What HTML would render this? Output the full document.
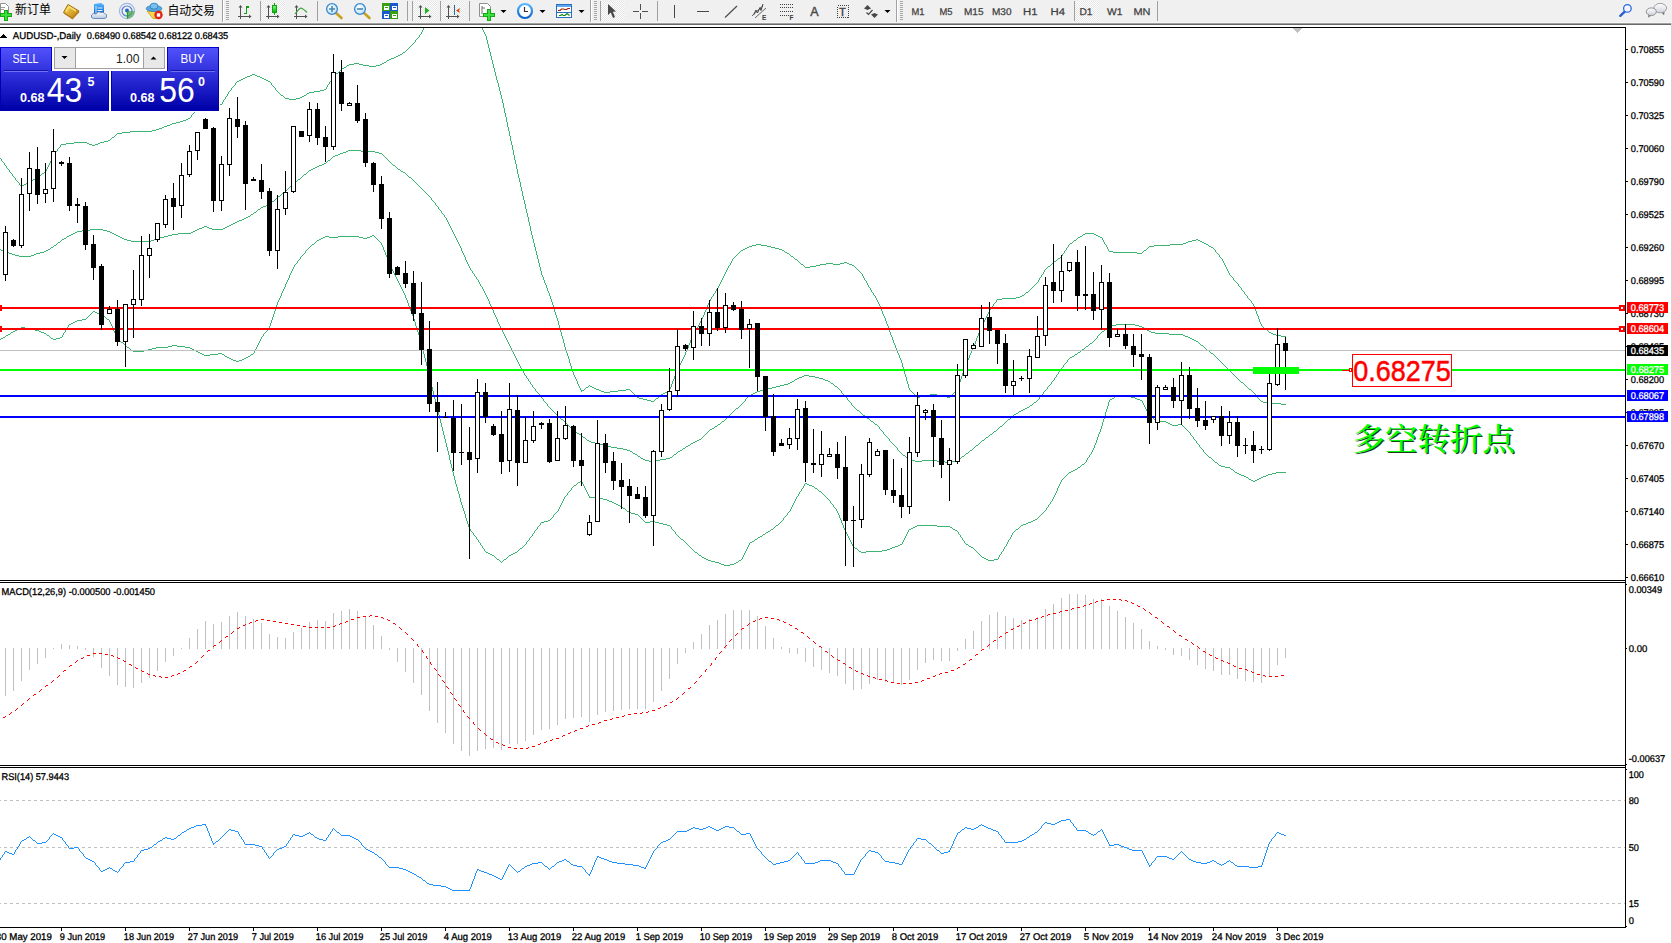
<!DOCTYPE html><html><head><meta charset="utf-8"><title>AUDUSD Daily</title>
<style>html,body{margin:0;padding:0;background:#fff;overflow:hidden}svg{display:block}text{white-space:pre}</style></head><body>
<svg width="1672" height="943" viewBox="0 0 1672 943">
<defs><clipPath id="cpMain"><rect x="0" y="28" width="1625" height="552"/></clipPath></defs>
<rect x="0" y="0" width="1672" height="943" fill="#fff"/>
<g shape-rendering="crispEdges">
<rect x="0" y="0" width="1672" height="22" fill="#f0f0f0"/>
<rect x="0" y="22" width="1672" height="1" fill="#f6f6f6"/>
<rect x="0" y="23" width="1672" height="1" fill="#a0a0a0"/>
<rect x="0" y="24" width="1672" height="1" fill="#696969"/>
<rect x="0" y="25" width="1672" height="2" fill="#fff"/>
</g>
<path d="M423.5 28v2M482.5 28v2M422.5 30v2M483.5 30v2M421.5 32v2M484.5 32v2M420 34.5h1M485.5 34v2M419.5 35v2M486.5 36v4M418 37.5h1M417 38.5h1M416 39.5h1M415.5 40v2M487.5 40v4M414 42.5h1M413 43.5h1M412 44.5h1M488.5 44v4M411 45.5h1M410 46.5h1M409 47.5h1M408 48.5h1M489.5 48v4M407 49.5h1M406 50.5h1M405 51.5h1M403 52.5h2M490.5 52v4M402 53.5h1M400 54.5h2M398 55.5h2M396 56.5h2M491.5 56v4M394 57.5h2M391 58.5h3M389 59.5h2M387 60.5h2M492.5 60v4M386 61.5h1M384 62.5h2M354 63.5h5M382 63.5h2M349 64.5h5M359 64.5h4M380 64.5h2M493.5 64v4M347 65.5h2M363 65.5h6M376 65.5h4M346 66.5h1M369 66.5h7M344 67.5h2M342 68.5h2M494.5 68v4M341 69.5h1M340 70.5h1M339 71.5h1M338 72.5h1M495.5 72v4M336 73.5h2M252 74.5h3M335 74.5h1M250 75.5h2M255 75.5h2M334 75.5h1M247 76.5h3M257 76.5h3M333 76.5h1M496.5 76v4M245 77.5h2M260 77.5h2M332.5 77v2M243 78.5h2M262 78.5h2M241 79.5h2M264 79.5h2M331.5 79v2M239 80.5h2M266 80.5h2M497.5 80v3M237 81.5h2M268 81.5h2M330 81.5h1M236 82.5h1M270 82.5h1M329.5 82v2M235.5 83v2M271.5 83v2M498.5 83v4M328 84.5h1M234 85.5h1M272 85.5h1M327.5 85v2M233 86.5h1M273 86.5h1M232 87.5h1M274 87.5h1M326.5 87v2M499.5 87v4M231.5 88v2M275.5 88v2M324 89.5h2M230 90.5h1M276 90.5h1M320 90.5h4M229 91.5h1M277 91.5h1M314 91.5h6M500.5 91v4M228.5 92v2M278 92.5h1M309 92.5h5M279 93.5h1M307 93.5h2M227.5 94v2M280 94.5h1M306 94.5h1M281 95.5h2M304 95.5h2M501.5 95v4M226 96.5h1M283 96.5h1M302 96.5h2M225.5 97v2M284 97.5h1M300 97.5h2M205 98.5h1M285 98.5h4M296 98.5h4M204 99.5h1M206 99.5h1M224 99.5h1M289 99.5h7M502.5 99v4M203.5 100v2M207 100.5h2M223.5 100v2M209 101.5h1M202 102.5h1M210 102.5h1M222.5 102v2M201 103.5h1M211 103.5h2M503.5 103v5M200 104.5h1M213 104.5h9M199.5 105v2M198 107.5h1M197 108.5h1M504.5 108v5M196 109.5h1M195.5 110v2M194 112.5h1M193 113.5h1M505.5 113v4M192 114.5h1M191.5 115v2M190 117.5h1M506.5 117v5M188 118.5h2M186 119.5h2M183 120.5h3M180 121.5h3M176 122.5h4M507.5 122v5M172 123.5h4M170 124.5h2M167 125.5h3M164 126.5h3M162 127.5h2M508.5 127v4M159 128.5h3M156 129.5h3M152 130.5h4M130 131.5h22M509.5 131v5M122 132.5h8M117 133.5h5M116 134.5h1M115 135.5h1M114 136.5h1M510.5 136v5M112 137.5h2M111 138.5h1M110 139.5h1M108 140.5h2M104 141.5h4M511.5 141v4M74 142.5h13M100 142.5h4M66 143.5h8M87 143.5h2M98 143.5h2M61 144.5h5M89 144.5h3M95 144.5h3M60.5 145v2M92 145.5h3M512.5 145v5M59 147.5h1M58 148.5h1M57.5 149v2M513.5 150v5M56 151.5h1M55 152.5h1M54.5 153v2M53.5 155v2M514.5 155v5M52.5 157v2M0 158.5h1M1.5 159v2M51.5 159v2M515.5 160v4M2 161.5h1M50.5 161v2M3 162.5h1M4.5 163v2M49.5 163v2M516.5 164v5M5 165.5h1M48.5 165v2M6.5 166v2M47.5 167v2M7 168.5h1M8 169.5h1M46.5 169v2M517.5 169v5M9.5 170v2M45 171.5h1M10 172.5h1M44 172.5h1M11 173.5h1M42 173.5h2M12.5 174v2M41 174.5h1M518.5 174v4M40 175.5h1M13 176.5h1M38 176.5h2M14 177.5h1M37 177.5h1M15.5 178v2M35 178.5h2M519.5 178v4M33 179.5h2M16 180.5h1M31 180.5h2M17 181.5h1M29 181.5h2M18 182.5h1M27 182.5h2M520.5 182v5M19.5 183v2M26 183.5h1M24 184.5h2M20 185.5h1M22 185.5h2M21 186.5h1M521.5 187v4M522.5 191v5M523.5 196v4M524.5 200v4M525.5 204v5M526.5 209v4M527.5 213v4M528.5 217v5M529.5 222v4M530.5 226v5M531.5 231v4M1085 233.5h9M1083 234.5h2M1094 234.5h2M532.5 235v4M1082 235.5h1M1096 235.5h2M1080 236.5h2M1098 236.5h2M1078 237.5h2M1100 237.5h2M1077 238.5h1M1102.5 238v2M533.5 239v4M1076 239.5h1M1196 239.5h2M1074 240.5h2M1103.5 240v2M1192 240.5h4M1198 240.5h2M1073 241.5h1M1188 241.5h4M1200 241.5h2M1072 242.5h1M1104.5 242v2M1186 242.5h2M1202 242.5h2M534.5 243v4M1070 243.5h2M1183 243.5h3M1204 243.5h2M756 244.5h5M1069 244.5h1M1105 244.5h1M1170 244.5h13M1206 244.5h2M752 245.5h4M761 245.5h6M1068.5 245v2M1106.5 245v2M1154 245.5h16M1208 245.5h1M749 246.5h3M767 246.5h4M1149 246.5h5M1209 246.5h2M535.5 247v4M747 247.5h2M771 247.5h4M1067 247.5h1M1107.5 247v2M1148 247.5h1M1211 247.5h2M745 248.5h2M775 248.5h4M1066.5 248v2M1147 248.5h1M1213 248.5h1M743 249.5h2M779 249.5h3M1108.5 249v2M1146 249.5h1M1214 249.5h1M741 250.5h2M782 250.5h2M1065 250.5h1M1144 250.5h2M1215.5 250v2M536.5 251v4M740 251.5h1M784 251.5h1M1064.5 251v2M1109 251.5h4M1143 251.5h1M739 252.5h1M785 252.5h2M1113 252.5h24M1142 252.5h1M1216 252.5h1M738 253.5h1M787 253.5h2M1063 253.5h1M1137 253.5h5M1217 253.5h1M737 254.5h1M789 254.5h1M1062.5 254v2M1218 254.5h1M537.5 255v4M736 255.5h1M790 255.5h1M1219.5 255v2M735 256.5h1M791 256.5h2M1061 256.5h1M734 257.5h1M793 257.5h1M1060 257.5h1M1220 257.5h1M733 258.5h1M794 258.5h1M1058 258.5h2M1221 258.5h1M538.5 259v4M732.5 259v2M795 259.5h2M1057 259.5h1M1222.5 259v2M797 260.5h1M1056 260.5h1M731.5 261v2M798 261.5h1M1054 261.5h2M1223.5 261v2M799 262.5h1M844 262.5h3M1053 262.5h1M539.5 263v4M730.5 263v2M800 263.5h1M826 263.5h7M840 263.5h4M847 263.5h2M1052 263.5h1M1224.5 263v2M801 264.5h2M820 264.5h6M833 264.5h7M849 264.5h3M1051 264.5h1M729 265.5h1M803 265.5h1M816 265.5h4M852 265.5h2M1050 265.5h1M1225.5 265v2M728.5 266v2M804 266.5h1M810 266.5h6M854 266.5h1M1048 266.5h2M540.5 267v4M805 267.5h5M855 267.5h1M1047 267.5h1M1226.5 267v2M727.5 268v2M856 268.5h1M1046 268.5h1M857 269.5h1M1045 269.5h1M1227.5 269v2M726.5 270v2M858 270.5h1M1044.5 270v2M541.5 271v4M859 271.5h1M1228.5 271v2M725.5 272v2M860 272.5h1M1043.5 272v2M861 273.5h1M1229.5 273v2M724.5 274v2M862.5 274v2M1042 274.5h1M542.5 275v2M1041.5 275v2M1230 275.5h1M723.5 276v2M863.5 276v2M1231 276.5h1M543.5 277v3M1040 277.5h1M1232 277.5h1M722.5 278v2M864.5 278v2M1039.5 278v2M1233.5 278v2M544.5 280v3M721.5 280v2M865 280.5h1M1038.5 280v2M1234 280.5h1M866.5 281v2M1235 281.5h1M720.5 282v2M1037 282.5h1M1236 282.5h1M545.5 283v2M867.5 283v2M1036 283.5h1M1237 283.5h1M719.5 284v2M1035 284.5h1M1238.5 284v2M546.5 285v3M868.5 285v2M1034 285.5h1M718.5 286v2M1033 286.5h1M1239 286.5h1M869 287.5h1M1032 287.5h1M1240 287.5h1M547.5 288v3M717 288.5h1M870.5 288v2M1031 288.5h1M1241.5 288v2M716.5 289v2M1030 289.5h1M871.5 290v2M1029 290.5h1M1242 290.5h1M548.5 291v2M715.5 291v2M1028 291.5h1M1243 291.5h1M872 292.5h1M1026 292.5h2M1244.5 292v2M549.5 293v3M714 293.5h1M873.5 293v2M1025 293.5h1M713.5 294v2M1024 294.5h1M1245 294.5h1M874 295.5h1M1022 295.5h2M1246 295.5h1M550.5 296v3M712 296.5h1M875.5 296v2M1020 296.5h2M1247.5 296v2M711.5 297v2M1016 297.5h4M876.5 298v2M1002 298.5h14M1248 298.5h1M551.5 299v3M710.5 299v2M997 299.5h5M1249 299.5h1M877.5 300v2M996.5 300v2M1250 300.5h1M709.5 301v2M1251.5 301v2M552.5 302v3M878.5 302v2M995 302.5h1M708.5 303v2M994 303.5h1M1252 303.5h1M879.5 304v2M993.5 304v2M1253.5 304v2M553.5 305v4M707.5 305v2M880.5 306v3M992 306.5h1M1254.5 306v2M706.5 307v3M991 307.5h1M990.5 308v2M1255.5 308v3M554.5 309v3M881.5 309v2M705.5 310v2M989.5 310v2M882.5 311v3M1256.5 311v3M555.5 312v3M704.5 312v3M988.5 312v2M883.5 314v2M987.5 314v2M1257.5 314v2M556.5 315v3M703.5 315v2M884.5 316v2M986.5 316v2M1258.5 316v3M702.5 317v2M557.5 318v3M885.5 318v3M985.5 318v2M701.5 319v2M1259.5 319v3M984.5 320v2M558.5 321v4M700.5 321v2M886.5 321v3M983.5 322v2M1260.5 322v2M699.5 323v2M887.5 324v2M982.5 324v2M1261.5 324v2M559.5 325v4M698.5 325v2M888.5 326v3M981.5 326v2M1262 326.5h1M697 327.5h1M1263 327.5h1M696.5 328v2M980.5 328v2M1264 328.5h1M560.5 329v3M889.5 329v3M1265 329.5h2M695.5 330v2M979.5 330v3M1267 330.5h1M1268 331.5h1M561.5 332v4M694.5 332v2M890.5 332v3M1269 332.5h2M978.5 333v3M1271 333.5h2M693.5 334v2M1273 334.5h3M891.5 335v2M1276 335.5h5M562.5 336v3M692.5 336v2M977.5 336v2M1281 336.5h5M892.5 337v3M691.5 338v2M976.5 338v3M563.5 339v4M690.5 340v3M893.5 340v3M975.5 341v3M564.5 343v4M689.5 343v2M894.5 343v2M974.5 344v2M688.5 345v3M895.5 345v3M973.5 346v3M565.5 347v3M687.5 348v2M896.5 348v2M972.5 349v2M566.5 350v3M686.5 350v2M897.5 350v3M971.5 351v2M685.5 352v3M567.5 353v3M898.5 353v2M970.5 353v2M684.5 355v2M899.5 355v3M969.5 355v3M568.5 356v3M683.5 357v2M900.5 358v2M968.5 358v2M569.5 359v4M682.5 359v2M901.5 360v3M967.5 360v2M681.5 361v2M966.5 362v2M570.5 363v3M680.5 363v2M902.5 363v4M965.5 364v3M679.5 365v2M571.5 366v3M678.5 367v2M903.5 367v3M964.5 367v3M572.5 369v3M677.5 369v2M904.5 370v4M963.5 370v3M676.5 371v2M573.5 372v3M675.5 373v3M962.5 373v3M905.5 374v3M574.5 375v2M674.5 376v3M961.5 376v3M575.5 377v2M906.5 377v4M576.5 379v2M673.5 379v2M960.5 379v3M577.5 381v3M672.5 381v3M907.5 381v3M959.5 382v3M578.5 384v2M671.5 384v3M908.5 384v4M589 385.5h1M958.5 385v3M579.5 386v2M588 386.5h1M590 386.5h2M586 387.5h2M592 387.5h2M670.5 387v2M580.5 388v2M585 388.5h1M594 388.5h2M909.5 388v2M957.5 388v2M584 389.5h1M596 389.5h3M626 389.5h4M669.5 389v2M581 390.5h3M599 390.5h2M618 390.5h8M630 390.5h1M910 390.5h1M956 390.5h1M581 391.5h1M601 391.5h3M610 391.5h8M631 391.5h1M667 391.5h2M911 391.5h1M955 391.5h1M604 392.5h6M632 392.5h1M665 392.5h2M912 392.5h1M954 392.5h1M633 393.5h1M663 393.5h2M913 393.5h1M953 393.5h1M634 394.5h1M661 394.5h2M914 394.5h1M930 394.5h7M952 394.5h1M635 395.5h1M660 395.5h1M915 395.5h1M924 395.5h6M937 395.5h6M951 395.5h1M636 396.5h1M659 396.5h1M916 396.5h1M920 396.5h4M943 396.5h4M950 396.5h1M637 397.5h2M658 397.5h1M917 397.5h3M947 397.5h3M639 398.5h4M656 398.5h2M643 399.5h4M655 399.5h1M647 400.5h4M654 400.5h1M651 401.5h3" fill="none" stroke="#3cb371" stroke-width="1" shape-rendering="crispEdges"/>
<path d="M348 150.5h13M346 151.5h2M361 151.5h14M343 152.5h3M375 152.5h4M340 153.5h3M379 153.5h3M338 154.5h2M382 154.5h1M335 155.5h3M383 155.5h1M333 156.5h2M384 156.5h1M332 157.5h1M385 157.5h1M331 158.5h1M386 158.5h1M330 159.5h1M387 159.5h1M328 160.5h2M388 160.5h1M327 161.5h1M389 161.5h1M326 162.5h1M390 162.5h1M324 163.5h2M391 163.5h1M322 164.5h2M392 164.5h1M319 165.5h3M393 165.5h2M317 166.5h2M395 166.5h1M315 167.5h2M396 167.5h1M313 168.5h2M397 168.5h1M311 169.5h2M398 169.5h2M309 170.5h2M400 170.5h1M308 171.5h1M401 171.5h2M307 172.5h1M403 172.5h2M306 173.5h1M405 173.5h1M304 174.5h2M406 174.5h1M303 175.5h1M407 175.5h1M302 176.5h1M408 176.5h1M301 177.5h1M409 177.5h2M300 178.5h1M411 178.5h1M298 179.5h2M412 179.5h1M297 180.5h1M413 180.5h1M296 181.5h1M414 181.5h1M294 182.5h2M415 182.5h1M293 183.5h1M416 183.5h1M292 184.5h1M417 184.5h1M291 185.5h1M418 185.5h1M290 186.5h1M419 186.5h1M289 187.5h1M420 187.5h1M288 188.5h1M421 188.5h1M287 189.5h1M422 189.5h1M286 190.5h1M423 190.5h1M285 191.5h1M424 191.5h1M284 192.5h1M425 192.5h1M282 193.5h2M426 193.5h1M281 194.5h1M427 194.5h1M280 195.5h1M428 195.5h1M278 196.5h2M429 196.5h1M277 197.5h1M430 197.5h1M276 198.5h1M431.5 198v2M275 199.5h1M274 200.5h1M432 200.5h1M272 201.5h2M433 201.5h1M271 202.5h1M434 202.5h1M270 203.5h1M435.5 203v2M268 204.5h2M266 205.5h2M436 205.5h1M263 206.5h3M437 206.5h1M261 207.5h2M438.5 207v2M260 208.5h1M258 209.5h2M439 209.5h1M257 210.5h1M440 210.5h1M256 211.5h1M441.5 211v2M254 212.5h2M253 213.5h1M442 213.5h1M251 214.5h2M443 214.5h1M250 215.5h1M444.5 215v2M248 216.5h2M246 217.5h2M445 217.5h1M244 218.5h2M446.5 218v2M242 219.5h2M239 220.5h3M447.5 220v2M237 221.5h2M235 222.5h2M448.5 222v2M233 223.5h2M231 224.5h2M449.5 224v2M229 225.5h2M204 226.5h3M227 226.5h2M450.5 226v2M202 227.5h2M207 227.5h2M225 227.5h2M199 228.5h3M209 228.5h3M223 228.5h2M451.5 228v2M90 229.5h13M197 229.5h2M212 229.5h11M82 230.5h8M103 230.5h4M195 230.5h2M452.5 230v2M77 231.5h5M107 231.5h3M193 231.5h2M75 232.5h2M110 232.5h2M191 232.5h2M453.5 232v2M73 233.5h2M112 233.5h2M178 233.5h13M71 234.5h2M114 234.5h2M172 234.5h6M454.5 234v2M69 235.5h2M116 235.5h2M168 235.5h4M67 236.5h2M118 236.5h2M164 236.5h4M455.5 236v2M66 237.5h1M120 237.5h2M160 237.5h4M64 238.5h2M122 238.5h2M156 238.5h4M456.5 238v2M62 239.5h2M124 239.5h3M154 239.5h2M61 240.5h1M127 240.5h4M151 240.5h3M457.5 240v2M60 241.5h1M131 241.5h20M58 242.5h2M458.5 242v2M57 243.5h1M56 244.5h1M459.5 244v2M54 245.5h2M53 246.5h1M460.5 246v2M51 247.5h2M50 248.5h1M461.5 248v3M0 249.5h1M48 249.5h2M1 250.5h3M46 250.5h2M4 251.5h3M44 251.5h2M462.5 251v2M7 252.5h2M40 252.5h4M9 253.5h3M36 253.5h4M463.5 253v2M12 254.5h3M34 254.5h2M15 255.5h4M31 255.5h3M464.5 255v2M19 256.5h12M465.5 257v3M466.5 260v2M467.5 262v2M468.5 264v2M469.5 266v2M470.5 268v2M471 270.5h1M472.5 271v2M473 273.5h1M474.5 274v2M475 276.5h1M476.5 277v2M477 279.5h1M478.5 280v2M479.5 282v2M480.5 284v2M481 286.5h1M482.5 287v2M483.5 289v2M484.5 291v2M485.5 293v2M486.5 295v2M487.5 297v2M488.5 299v2M489.5 301v3M490.5 304v2M491.5 306v2M492.5 308v2M493.5 310v3M494.5 313v2M495.5 315v2M496.5 317v2M497.5 319v3M498.5 322v2M499.5 324v2M1116 324.5h19M1112 325.5h4M1135 325.5h4M500.5 326v2M1109 326.5h3M1139 326.5h3M1108 327.5h1M1142 327.5h2M501.5 328v2M1106 328.5h2M1144 328.5h1M1105 329.5h1M1145 329.5h2M502.5 330v2M1104 330.5h1M1147 330.5h2M1102 331.5h2M1149 331.5h2M503.5 332v2M1101 332.5h1M1151 332.5h4M1100 333.5h1M1155 333.5h14M504.5 334v2M1099 334.5h1M1169 334.5h14M1098 335.5h1M1183 335.5h2M505.5 336v2M1097.5 336v2M1185 336.5h3M1188 337.5h2M506.5 338v2M1096 338.5h1M1190 338.5h2M1095 339.5h1M1192 339.5h2M507.5 340v2M1094 340.5h1M1194 340.5h2M1093 341.5h1M1196 341.5h2M508.5 342v2M1092 342.5h1M1198 342.5h1M1090 343.5h2M1199 343.5h1M509.5 344v2M1089 344.5h1M1200 344.5h1M1088 345.5h1M1201 345.5h2M510.5 346v2M1086 346.5h2M1203 346.5h1M1085 347.5h1M1204 347.5h1M511.5 348v2M1084 348.5h1M1205 348.5h1M1082 349.5h2M1206 349.5h1M512.5 350v2M1081 350.5h1M1207 350.5h2M1080 351.5h1M1209 351.5h1M513.5 352v2M1078 352.5h2M1210 352.5h1M1077 353.5h1M1211 353.5h2M514.5 354v2M1075 354.5h2M1213 354.5h1M1074 355.5h1M1214 355.5h1M515.5 356v2M1072 356.5h2M1215 356.5h1M1070 357.5h2M1216 357.5h1M516.5 358v2M1069 358.5h1M1217 358.5h1M1068 359.5h1M1218 359.5h1M517.5 360v2M1067.5 360v2M1219 360.5h1M1220 361.5h1M518.5 362v2M1066 362.5h1M1221 362.5h1M1065 363.5h1M1222 363.5h1M519.5 364v2M1064 364.5h1M1223 364.5h1M1063.5 365v2M1224 365.5h1M520.5 366v2M1225 366.5h1M1062 367.5h1M1226 367.5h1M521 368.5h1M1061 368.5h1M1227 368.5h1M522.5 369v2M1060.5 369v2M1228 369.5h1M1229 370.5h1M523.5 371v2M1059 371.5h1M1230 371.5h1M1058.5 372v2M1231 372.5h1M524.5 373v2M1232 373.5h1M1057 374.5h1M1233 374.5h1M525 375.5h1M804 375.5h5M1056.5 375v2M1234 375.5h1M526.5 376v2M802 376.5h2M809 376.5h6M1235 376.5h1M799 377.5h3M815 377.5h4M1055 377.5h1M1236 377.5h1M527 378.5h1M797 378.5h2M819 378.5h4M1054.5 378v2M1237 378.5h1M528.5 379v2M795 379.5h2M823 379.5h2M1238 379.5h1M794 380.5h1M825 380.5h3M1053 380.5h1M1239 380.5h1M529 381.5h1M792 381.5h2M828 381.5h2M1052 381.5h1M1240 381.5h1M530.5 382v2M790 382.5h2M830 382.5h1M1051.5 382v2M1241 382.5h2M788 383.5h2M831 383.5h2M1243 383.5h1M531 384.5h1M784 384.5h4M833 384.5h1M1050 384.5h1M1244 384.5h1M532.5 385v2M780 385.5h4M834 385.5h1M1049 385.5h1M1245 385.5h1M776 386.5h4M835 386.5h2M1048 386.5h1M1246 386.5h1M533 387.5h1M772 387.5h4M837 387.5h1M1047.5 387v2M1247 387.5h1M534 388.5h1M768 388.5h4M838 388.5h1M1248 388.5h1M535.5 389v2M764 389.5h4M839 389.5h1M1046 389.5h1M1249 389.5h2M760 390.5h4M840 390.5h1M1045 390.5h1M1251 390.5h1M536 391.5h1M757 391.5h3M841.5 391v2M1044 391.5h1M1252 391.5h1M537 392.5h1M755 392.5h2M1043.5 392v2M1253 392.5h1M538 393.5h1M753 393.5h2M842 393.5h1M1254 393.5h1M539.5 394v2M751 394.5h2M843 394.5h1M1042 394.5h1M1255 394.5h1M749 395.5h2M844 395.5h1M1041 395.5h1M1256 395.5h1M540 396.5h1M748 396.5h1M845 396.5h1M1040 396.5h1M1257.5 396v2M541 397.5h1M747 397.5h1M846 397.5h1M1039.5 397v2M542 398.5h1M746 398.5h1M847.5 398v2M1258 398.5h1M543.5 399v2M745.5 399v2M1038 399.5h1M1259 399.5h1M848 400.5h1M1037 400.5h1M1260 400.5h1M544 401.5h1M744 401.5h1M849 401.5h1M1036 401.5h1M1261 401.5h2M545 402.5h1M743 402.5h1M850 402.5h1M1034 402.5h2M1263 402.5h4M546 403.5h1M742 403.5h1M851.5 403v2M1033 403.5h1M1267 403.5h14M547.5 404v2M741 404.5h1M1032 404.5h1M1281 404.5h5M740 405.5h1M852 405.5h1M1030 405.5h2M548 406.5h1M739 406.5h1M853 406.5h1M1029 406.5h1M549 407.5h1M738 407.5h1M854 407.5h1M1027 407.5h2M550 408.5h1M736 408.5h2M855 408.5h1M1025 408.5h2M551 409.5h1M735 409.5h1M856 409.5h1M1023 409.5h2M552 410.5h1M734 410.5h1M857 410.5h2M1021 410.5h2M553 411.5h1M733 411.5h1M859 411.5h1M1019 411.5h2M554 412.5h1M732 412.5h1M860 412.5h1M1018 412.5h1M555 413.5h1M731 413.5h1M861 413.5h1M1016 413.5h2M556 414.5h1M730 414.5h1M862 414.5h1M1014 414.5h2M557 415.5h1M729 415.5h1M863 415.5h2M1013 415.5h1M558 416.5h1M728 416.5h1M865 416.5h1M1012 416.5h1M559 417.5h1M727 417.5h1M866 417.5h1M1011 417.5h1M560 418.5h1M726 418.5h1M867 418.5h2M1010 418.5h1M561 419.5h2M725 419.5h1M869 419.5h1M1008 419.5h2M563 420.5h1M724 420.5h1M870 420.5h1M1007 420.5h1M564 421.5h1M722 421.5h2M871 421.5h2M1006 421.5h1M565 422.5h1M721 422.5h1M873 422.5h1M1005 422.5h1M566 423.5h1M720 423.5h1M874 423.5h1M1004 423.5h1M567 424.5h1M718 424.5h2M875 424.5h2M1003 424.5h1M568 425.5h1M717 425.5h1M877 425.5h1M1002 425.5h1M569 426.5h1M715 426.5h2M878 426.5h1M1000 426.5h2M570 427.5h1M714 427.5h1M879.5 427v2M999 427.5h1M571 428.5h1M712 428.5h2M998 428.5h1M572 429.5h1M710 429.5h2M880 429.5h1M997 429.5h1M573 430.5h1M709 430.5h1M881 430.5h1M996 430.5h1M574 431.5h2M708 431.5h1M882 431.5h1M994 431.5h2M576 432.5h1M707 432.5h1M883.5 432v2M993 432.5h1M577 433.5h2M706 433.5h1M992 433.5h1M579 434.5h2M705 434.5h1M884 434.5h1M990 434.5h2M581 435.5h1M704 435.5h1M885 435.5h1M989 435.5h1M582 436.5h1M703 436.5h1M886 436.5h1M988 436.5h1M583 437.5h2M702 437.5h1M887 437.5h1M986 437.5h2M585 438.5h1M701 438.5h1M888 438.5h1M985 438.5h1M586 439.5h1M699 439.5h2M889.5 439v2M984 439.5h1M587 440.5h2M697 440.5h2M982 440.5h2M589 441.5h2M695 441.5h2M890 441.5h1M981 441.5h1M591 442.5h4M693 442.5h2M891 442.5h1M980 442.5h1M595 443.5h4M691 443.5h2M892 443.5h1M979 443.5h1M599 444.5h4M690 444.5h1M893 444.5h1M978 444.5h1M603 445.5h4M688 445.5h2M894 445.5h1M976 445.5h2M607 446.5h4M686 446.5h2M895 446.5h1M975 446.5h1M611 447.5h6M685 447.5h1M896 447.5h1M974 447.5h1M617 448.5h6M683 448.5h2M897.5 448v2M973 448.5h1M623 449.5h4M682 449.5h1M972 449.5h1M627 450.5h3M680 450.5h2M898 450.5h1M970 450.5h2M630 451.5h2M678 451.5h2M899 451.5h1M969 451.5h1M632 452.5h1M677 452.5h1M900 452.5h1M968 452.5h1M633 453.5h2M676 453.5h1M901 453.5h1M966 453.5h2M635 454.5h2M674 454.5h2M902 454.5h1M965 454.5h1M637 455.5h1M673 455.5h1M903 455.5h2M964 455.5h1M638 456.5h2M672 456.5h1M905 456.5h1M962 456.5h2M640 457.5h1M670 457.5h2M906 457.5h1M961 457.5h1M641 458.5h2M666 458.5h4M907 458.5h2M960 458.5h1M643 459.5h2M660 459.5h6M909 459.5h2M958 459.5h2M645 460.5h4M656 460.5h4M911 460.5h4M922 460.5h15M956 460.5h2M649 461.5h7M915 461.5h7M937 461.5h8M952 461.5h4M945 462.5h7" fill="none" stroke="#3cb371" stroke-width="1" shape-rendering="crispEdges"/>
<path d="M372 235.5h2M325 236.5h4M338 236.5h21M370 236.5h2M374 236.5h1M323 237.5h2M329 237.5h9M359 237.5h4M367 237.5h3M375 237.5h1M321 238.5h2M363 238.5h4M376 238.5h1M319 239.5h2M377 239.5h1M317 240.5h2M378 240.5h1M316 241.5h1M379 241.5h1M315 242.5h1M380 242.5h1M314 243.5h1M381.5 243v2M312 244.5h2M311 245.5h1M382.5 245v2M310 246.5h1M309 247.5h1M383.5 247v3M308 248.5h1M307 249.5h1M306 250.5h1M384.5 250v2M305.5 251v2M385.5 252v3M304 253.5h1M303 254.5h1M302 255.5h1M386.5 255v2M301 256.5h1M300.5 257v2M387.5 257v3M299 259.5h1M298 260.5h1M388.5 260v2M297.5 261v2M389.5 262v3M296 263.5h1M295 264.5h1M294.5 265v2M390.5 265v2M293.5 267v2M391.5 267v2M292.5 269v2M392.5 269v2M291.5 271v2M393.5 271v2M290.5 273v2M394.5 273v2M289.5 275v3M395.5 275v2M396.5 277v2M288.5 278v2M397.5 279v2M287.5 280v2M398.5 281v2M286.5 282v2M399.5 283v2M285.5 284v3M400.5 285v2M284.5 287v2M401.5 287v2M283.5 289v2M402.5 289v2M282.5 291v2M403.5 291v2M281.5 293v3M404.5 293v2M405.5 295v3M280.5 296v2M279.5 298v2M406.5 298v2M278.5 300v2M407.5 300v3M277.5 302v3M408.5 303v3M276.5 305v3M409.5 306v2M275.5 308v3M410.5 308v3M93 311.5h2M274.5 311v3M411.5 311v3M92 312.5h1M95 312.5h2M91 313.5h1M97 313.5h3M90 314.5h1M100 314.5h2M273.5 314v3M412.5 314v2M89 315.5h1M102 315.5h1M88 316.5h1M103 316.5h2M413.5 316v3M87 317.5h1M105 317.5h1M272.5 317v3M86 318.5h1M106 318.5h1M82 319.5h4M107 319.5h2M414.5 319v3M77 320.5h5M109.5 320v2M271.5 320v3M75 321.5h2M73 322.5h2M110.5 322v2M415.5 322v4M71 323.5h2M270.5 323v3M69 324.5h2M111.5 324v2M68.5 325v2M112.5 326v2M269.5 326v2M416.5 326v3M21 327.5h4M67.5 327v2M19 328.5h2M25 328.5h6M113.5 328v3M268 328.5h1M17 329.5h2M31 329.5h4M66 329.5h1M267.5 329v2M417.5 329v3M15 330.5h2M35 330.5h4M65.5 330v2M13 331.5h2M39 331.5h2M114.5 331v2M266 331.5h1M11 332.5h2M41 332.5h3M64 332.5h1M265 332.5h1M418.5 332v3M10 333.5h1M44 333.5h2M63.5 333v2M115.5 333v2M264 333.5h1M8 334.5h2M46 334.5h1M263.5 334v2M6 335.5h2M47 335.5h2M62.5 335v2M116.5 335v2M419.5 335v4M5 336.5h1M49 336.5h1M262 336.5h1M3 337.5h2M50 337.5h1M60 337.5h2M117.5 337v2M261.5 337v2M1 338.5h2M51 338.5h2M56 338.5h4M0 339.5h1M53 339.5h3M118 339.5h1M260.5 339v2M420.5 339v3M119 340.5h1M120 341.5h1M259.5 341v2M121 342.5h2M421.5 342v4M123 343.5h1M258.5 343v2M124 344.5h1M125 345.5h1M172 345.5h5M257.5 345v2M126 346.5h1M168 346.5h4M177 346.5h8M422.5 346v4M127 347.5h2M156 347.5h12M185 347.5h5M256.5 347v2M129 348.5h1M152 348.5h4M190 348.5h2M130 349.5h1M148 349.5h4M192 349.5h2M255.5 349v2M131 350.5h2M144 350.5h4M194 350.5h2M423.5 350v4M133 351.5h11M196 351.5h2M254.5 351v2M198 352.5h2M200 353.5h2M218 353.5h4M253 353.5h1M202 354.5h2M210 354.5h8M222 354.5h2M251 354.5h2M424.5 354v4M204 355.5h6M224 355.5h1M250 355.5h1M225 356.5h2M248 356.5h2M227 357.5h2M246 357.5h2M229 358.5h2M244 358.5h2M425.5 358v4M231 359.5h2M242 359.5h2M233 360.5h3M239 360.5h3M236 361.5h3M426.5 362v4M427.5 366v4M428.5 370v4M429.5 374v5M430.5 379v4M431.5 383v4M432.5 387v4M433.5 391v4M434.5 395v4M1117 395.5h10M1115 396.5h2M1127 396.5h4M1114 397.5h1M1131 397.5h4M1112 398.5h2M1135 398.5h2M435.5 399v4M1110 399.5h2M1137 399.5h3M1109.5 400v2M1140 400.5h2M1142.5 401v2M1108.5 402v4M436.5 403v4M1143.5 403v2M1144.5 405v2M1107.5 406v3M437.5 407v4M1145.5 407v2M1106.5 409v3M1146.5 409v2M438.5 411v4M1147.5 411v2M1105.5 412v4M1148.5 413v2M439.5 415v4M1149 415.5h1M1104.5 416v3M1150 416.5h1M1151 417.5h2M1153 418.5h1M440.5 419v4M1103.5 419v3M1154 419.5h1M1155 420.5h2M1157 421.5h9M1102.5 422v4M1166 422.5h2M441.5 423v4M1168 423.5h2M1170 424.5h2M1178 424.5h4M1172 425.5h6M1182 425.5h1M1101.5 426v3M1183 426.5h1M442.5 427v4M1184 427.5h1M1185 428.5h1M1100.5 429v3M1186 429.5h1M1187 430.5h1M443.5 431v4M1188 431.5h1M1099.5 432v2M1189 432.5h1M1190.5 433v2M1098.5 434v3M444.5 435v4M1191 435.5h1M1192 436.5h1M1097.5 437v3M1193.5 437v2M445.5 439v4M1194 439.5h1M1096.5 440v3M1195 440.5h1M1196.5 441v2M446.5 443v4M1095.5 443v2M1197 443.5h1M1198 444.5h1M1094.5 445v3M1199.5 445v2M447.5 447v4M1200 447.5h1M1093.5 448v2M1201 448.5h1M1202 449.5h1M1092.5 450v2M1203.5 450v2M448.5 451v4M1091.5 452v2M1204 452.5h1M1205 453.5h1M1090 454.5h1M1206 454.5h1M449.5 455v5M1089.5 455v2M1207 455.5h1M1208 456.5h1M1088 457.5h1M1209 457.5h2M1087.5 458v2M1211 458.5h1M1212 459.5h1M450.5 460v4M1086.5 460v2M1213 460.5h1M1214 461.5h1M1085 462.5h1M1215 462.5h2M1084 463.5h1M1217 463.5h1M451.5 464v4M1082 464.5h2M1218 464.5h1M1081 465.5h1M1219 465.5h2M1080 466.5h1M1221 466.5h4M1078 467.5h2M1225 467.5h5M452.5 468v4M1077 468.5h1M1230 468.5h1M1075 469.5h2M1231 469.5h2M1073 470.5h2M1233 470.5h1M1071 471.5h2M1234 471.5h1M453.5 472v4M1069 472.5h2M1235 472.5h2M1276 472.5h10M1068 473.5h1M1237 473.5h2M1272 473.5h4M1067 474.5h1M1239 474.5h2M1268 474.5h4M1066 475.5h1M1241 475.5h3M1266 475.5h2M454.5 476v4M1065 476.5h1M1244 476.5h2M1263 476.5h3M1064 477.5h1M1246 477.5h2M1261 477.5h2M1063 478.5h1M1248 478.5h1M1259 478.5h2M1062 479.5h1M1249 479.5h2M1257 479.5h2M455.5 480v4M581.5 480v2M1061.5 480v2M1251 480.5h2M1255 480.5h2M580 481.5h1M1253 481.5h2M578 482.5h2M582.5 482v2M1060.5 482v2M577 483.5h1M805 483.5h2M456.5 484v3M576 484.5h1M583.5 484v2M804.5 484v2M807 484.5h2M1059.5 484v2M574 485.5h2M809 485.5h3M573 486.5h1M584.5 486v2M803.5 486v2M812 486.5h2M1058.5 486v2M457.5 487v4M572 487.5h1M814 487.5h1M571.5 488v2M585.5 488v2M802 488.5h1M815 488.5h2M1057.5 488v3M801.5 489v2M817 489.5h1M570 490.5h1M586.5 490v2M818 490.5h1M458.5 491v3M569 491.5h1M800 491.5h1M819 491.5h2M1056.5 491v2M568 492.5h1M587.5 492v2M799.5 492v2M821 492.5h1M567.5 493v2M822 493.5h1M1055.5 493v2M459.5 494v4M588.5 494v2M798.5 494v2M823 494.5h1M566 495.5h1M824 495.5h1M1054.5 495v2M565 496.5h1M589.5 496v2M797 496.5h1M825 496.5h1M564.5 497v2M590 497.5h9M796.5 497v2M826 497.5h1M1053.5 497v2M460.5 498v4M599 498.5h4M827 498.5h1M563.5 499v2M603 499.5h4M795.5 499v2M828 499.5h1M1052.5 499v2M607 500.5h2M829 500.5h1M562.5 501v2M609 501.5h3M794.5 501v2M830.5 501v2M1051 501.5h1M461.5 502v3M612 502.5h2M1050.5 502v2M561.5 503v2M614 503.5h2M793.5 503v2M831 503.5h1M616 504.5h2M832 504.5h1M1049 504.5h1M462.5 505v3M560.5 505v2M618 505.5h2M792.5 505v2M833.5 505v2M1048.5 505v2M620 506.5h2M559.5 507v2M622 507.5h1M791.5 507v2M834 507.5h1M1047 507.5h1M463.5 508v3M623 508.5h2M835 508.5h1M1046.5 508v2M558.5 509v2M625 509.5h1M790.5 509v2M836.5 509v2M626 510.5h1M1045 510.5h1M464.5 511v3M557 511.5h1M627 511.5h2M789 511.5h1M837.5 511v2M1044 511.5h1M556 512.5h1M629 512.5h2M788 512.5h1M1043 512.5h1M555 513.5h1M631 513.5h4M787.5 513v2M838.5 513v2M1042 513.5h1M465.5 514v4M554 514.5h1M635 514.5h3M1041 514.5h1M553.5 515v2M638 515.5h1M786 515.5h1M839.5 515v3M1040 515.5h1M639 516.5h1M785 516.5h1M1039 516.5h1M552 517.5h1M640 517.5h1M784 517.5h1M1038 517.5h1M466.5 518v3M551 518.5h1M641 518.5h1M783.5 518v2M840.5 518v2M1037 518.5h1M550 519.5h1M642 519.5h1M1035 519.5h2M548 520.5h2M643 520.5h1M782 520.5h1M841.5 520v3M1033 520.5h2M467.5 521v3M544 521.5h4M644 521.5h1M650 521.5h5M781 521.5h1M1031 521.5h2M541 522.5h3M645 522.5h5M655 522.5h4M780 522.5h1M1028 522.5h3M540.5 523v2M659 523.5h4M779 523.5h1M842.5 523v2M1026 523.5h2M468.5 524v3M663 524.5h4M778 524.5h1M1023 524.5h3M539 525.5h1M667 525.5h3M776 525.5h2M843.5 525v3M917 525.5h20M1021 525.5h2M538 526.5h1M670 526.5h1M775 526.5h1M915 526.5h2M937 526.5h13M1020 526.5h1M469.5 527v2M537.5 527v2M671.5 527v2M774 527.5h1M913 527.5h2M950 527.5h2M1019 527.5h1M773 528.5h1M844.5 528v2M911 528.5h2M952 528.5h1M1018 528.5h1M470.5 529v2M536 529.5h1M672 529.5h1M771 529.5h2M909 529.5h2M953 529.5h2M1016 529.5h2M535 530.5h1M673 530.5h1M770 530.5h1M845.5 530v2M908.5 530v2M955 530.5h2M1015 530.5h1M471 531.5h1M534.5 531v2M674 531.5h1M768 531.5h2M957 531.5h1M1014 531.5h1M472 532.5h1M675.5 532v2M766 532.5h2M846.5 532v2M907.5 532v2M958.5 532v2M1013 532.5h1M473.5 533v2M533 533.5h1M765 533.5h1M1012.5 533v2M532.5 534v2M676 534.5h1M763 534.5h2M847.5 534v2M906.5 534v2M959 534.5h1M474 535.5h1M677 535.5h1M762 535.5h1M960.5 535v2M1011.5 535v2M475 536.5h1M531 536.5h1M678 536.5h1M760 536.5h2M848.5 536v2M905.5 536v2M476.5 537v2M530 537.5h1M679 537.5h1M758 537.5h2M961 537.5h1M1010.5 537v2M529.5 538v2M680 538.5h1M757 538.5h1M849.5 538v2M904.5 538v2M962.5 538v2M477 539.5h1M681 539.5h2M755 539.5h2M1009 539.5h1M478.5 540v2M528 540.5h1M683 540.5h1M754 540.5h1M850.5 540v2M903.5 540v2M963 540.5h1M1008.5 540v2M527 541.5h1M684 541.5h1M752 541.5h2M964.5 541v2M479 542.5h1M526.5 542v2M685 542.5h1M750 542.5h2M851.5 542v2M902.5 542v2M1007.5 542v2M480.5 543v2M686 543.5h1M749.5 543v2M965 543.5h1M525 544.5h1M687 544.5h1M852.5 544v2M900 544.5h2M966 544.5h2M1006.5 544v2M481 545.5h1M524 545.5h1M688 545.5h1M748.5 545v2M898 545.5h2M968 545.5h1M482.5 546v2M523 546.5h1M689 546.5h1M853 546.5h1M895 546.5h3M969 546.5h2M1005 546.5h1M522 547.5h1M690 547.5h1M747.5 547v2M854 547.5h1M892 547.5h3M971 547.5h2M1004.5 547v2M483 548.5h1M520 548.5h2M691 548.5h1M855 548.5h2M890 548.5h2M973 548.5h1M484.5 549v2M519 549.5h1M692 549.5h1M746.5 549v2M857 549.5h1M887 549.5h3M974 549.5h1M1003.5 549v2M518 550.5h1M693 550.5h1M858 550.5h1M882 550.5h5M975 550.5h1M485 551.5h1M517 551.5h1M694 551.5h1M745.5 551v2M859 551.5h2M866 551.5h16M976 551.5h1M1002 551.5h1M486 552.5h2M515 552.5h2M695 552.5h2M861 552.5h5M977 552.5h1M1001.5 552v2M488 553.5h2M513 553.5h2M697 553.5h1M744.5 553v2M978 553.5h1M490 554.5h2M511 554.5h2M698 554.5h1M979 554.5h1M1000 554.5h1M492 555.5h2M509 555.5h2M699 555.5h2M743.5 555v2M980 555.5h1M999.5 555v2M494 556.5h1M508 556.5h1M701 556.5h1M981 556.5h1M495 557.5h1M507 557.5h1M702 557.5h2M742.5 557v2M982 557.5h2M998.5 557v2M496 558.5h1M506 558.5h1M704 558.5h2M984 558.5h2M497 559.5h2M504 559.5h2M706 559.5h2M741 559.5h1M986 559.5h2M994 559.5h4M499 560.5h1M503 560.5h1M708 560.5h3M739 560.5h2M988 560.5h6M500 561.5h1M502 561.5h1M711 561.5h4M738 561.5h1M501 562.5h1M715 562.5h4M736 562.5h2M719 563.5h2M734 563.5h2M721 564.5h3M730 564.5h4M724 565.5h6" fill="none" stroke="#3cb371" stroke-width="1" shape-rendering="crispEdges"/>
<g shape-rendering="crispEdges">
<rect x="0" y="307" width="1625" height="2" fill="#ff0000"/>
<rect x="0" y="328" width="1625" height="2" fill="#ff0000"/>
<rect x="0" y="350" width="1625" height="1" fill="#c0c0c0"/>
<rect x="0" y="369" width="1625" height="2" fill="#00ff00"/>
<rect x="0" y="395" width="1625" height="2" fill="#0000ff"/>
<rect x="0" y="416" width="1625" height="2" fill="#0000ff"/>
</g>
<g shape-rendering="crispEdges">
<rect x="5" y="226" width="1" height="55" fill="#000"/>
<rect x="3" y="232" width="5" height="43" fill="#000"/>
<rect x="4" y="233" width="3" height="41" fill="#fff"/>
<rect x="13" y="239" width="1" height="8" fill="#000"/>
<rect x="11" y="240" width="5" height="6" fill="#000"/>
<rect x="21" y="178" width="1" height="70" fill="#000"/>
<rect x="19" y="194" width="5" height="52" fill="#000"/>
<rect x="20" y="195" width="3" height="50" fill="#fff"/>
<rect x="29" y="152" width="1" height="59" fill="#000"/>
<rect x="27" y="168" width="5" height="26" fill="#000"/>
<rect x="28" y="169" width="3" height="24" fill="#fff"/>
<rect x="37" y="147" width="1" height="57" fill="#000"/>
<rect x="35" y="169" width="5" height="26" fill="#000"/>
<rect x="45" y="163" width="1" height="40" fill="#000"/>
<rect x="43" y="189" width="5" height="5" fill="#000"/>
<rect x="44" y="190" width="3" height="3" fill="#fff"/>
<rect x="53" y="129" width="1" height="73" fill="#000"/>
<rect x="51" y="151" width="5" height="38" fill="#000"/>
<rect x="52" y="152" width="3" height="36" fill="#fff"/>
<rect x="61" y="161" width="1" height="5" fill="#000"/>
<rect x="59" y="162" width="5" height="2" fill="#000"/>
<rect x="69" y="157" width="1" height="54" fill="#000"/>
<rect x="67" y="163" width="5" height="43" fill="#000"/>
<rect x="77" y="198" width="1" height="25" fill="#000"/>
<rect x="75" y="204" width="5" height="2" fill="#000"/>
<rect x="85" y="202" width="1" height="48" fill="#000"/>
<rect x="83" y="206" width="5" height="39" fill="#000"/>
<rect x="93" y="235" width="1" height="45" fill="#000"/>
<rect x="91" y="244" width="5" height="24" fill="#000"/>
<rect x="101" y="264" width="1" height="66" fill="#000"/>
<rect x="99" y="266" width="5" height="59" fill="#000"/>
<rect x="109" y="306" width="1" height="8" fill="#000"/>
<rect x="107" y="309" width="5" height="5" fill="#000"/>
<rect x="108" y="310" width="3" height="3" fill="#fff"/>
<rect x="117" y="300" width="1" height="46" fill="#000"/>
<rect x="115" y="309" width="5" height="33" fill="#000"/>
<rect x="125" y="304" width="1" height="63" fill="#000"/>
<rect x="123" y="304" width="5" height="38" fill="#000"/>
<rect x="124" y="305" width="3" height="36" fill="#fff"/>
<rect x="133" y="270" width="1" height="68" fill="#000"/>
<rect x="131" y="299" width="5" height="6" fill="#000"/>
<rect x="132" y="300" width="3" height="4" fill="#fff"/>
<rect x="141" y="236" width="1" height="70" fill="#000"/>
<rect x="139" y="255" width="5" height="45" fill="#000"/>
<rect x="140" y="256" width="3" height="43" fill="#fff"/>
<rect x="149" y="234" width="1" height="44" fill="#000"/>
<rect x="147" y="248" width="5" height="8" fill="#000"/>
<rect x="148" y="249" width="3" height="6" fill="#fff"/>
<rect x="157" y="223" width="1" height="19" fill="#000"/>
<rect x="155" y="223" width="5" height="17" fill="#000"/>
<rect x="156" y="224" width="3" height="15" fill="#fff"/>
<rect x="165" y="195" width="1" height="33" fill="#000"/>
<rect x="163" y="199" width="5" height="26" fill="#000"/>
<rect x="164" y="200" width="3" height="24" fill="#fff"/>
<rect x="173" y="183" width="1" height="47" fill="#000"/>
<rect x="171" y="198" width="5" height="9" fill="#000"/>
<rect x="181" y="163" width="1" height="55" fill="#000"/>
<rect x="179" y="175" width="5" height="31" fill="#000"/>
<rect x="180" y="176" width="3" height="29" fill="#fff"/>
<rect x="189" y="145" width="1" height="32" fill="#000"/>
<rect x="187" y="151" width="5" height="24" fill="#000"/>
<rect x="188" y="152" width="3" height="22" fill="#fff"/>
<rect x="197" y="132" width="1" height="28" fill="#000"/>
<rect x="195" y="132" width="5" height="19" fill="#000"/>
<rect x="196" y="133" width="3" height="17" fill="#fff"/>
<rect x="205" y="118" width="1" height="11" fill="#000"/>
<rect x="203" y="119" width="5" height="10" fill="#000"/>
<rect x="213" y="127" width="1" height="85" fill="#000"/>
<rect x="211" y="128" width="5" height="73" fill="#000"/>
<rect x="221" y="156" width="1" height="55" fill="#000"/>
<rect x="219" y="164" width="5" height="37" fill="#000"/>
<rect x="220" y="165" width="3" height="35" fill="#fff"/>
<rect x="229" y="108" width="1" height="68" fill="#000"/>
<rect x="227" y="118" width="5" height="47" fill="#000"/>
<rect x="228" y="119" width="3" height="45" fill="#fff"/>
<rect x="237" y="97" width="1" height="41" fill="#000"/>
<rect x="235" y="119" width="5" height="8" fill="#000"/>
<rect x="245" y="121" width="1" height="89" fill="#000"/>
<rect x="243" y="125" width="5" height="59" fill="#000"/>
<rect x="253" y="177" width="1" height="4" fill="#000"/>
<rect x="251" y="179" width="5" height="2" fill="#000"/>
<rect x="261" y="164" width="1" height="35" fill="#000"/>
<rect x="259" y="180" width="5" height="12" fill="#000"/>
<rect x="269" y="188" width="1" height="68" fill="#000"/>
<rect x="267" y="191" width="5" height="60" fill="#000"/>
<rect x="277" y="195" width="1" height="74" fill="#000"/>
<rect x="275" y="209" width="5" height="42" fill="#000"/>
<rect x="276" y="210" width="3" height="40" fill="#fff"/>
<rect x="285" y="171" width="1" height="44" fill="#000"/>
<rect x="283" y="192" width="5" height="17" fill="#000"/>
<rect x="284" y="193" width="3" height="15" fill="#fff"/>
<rect x="293" y="126" width="1" height="67" fill="#000"/>
<rect x="291" y="126" width="5" height="66" fill="#000"/>
<rect x="292" y="127" width="3" height="64" fill="#fff"/>
<rect x="301" y="131" width="1" height="6" fill="#000"/>
<rect x="299" y="131" width="5" height="6" fill="#000"/>
<rect x="309" y="102" width="1" height="40" fill="#000"/>
<rect x="307" y="109" width="5" height="27" fill="#000"/>
<rect x="308" y="110" width="3" height="25" fill="#fff"/>
<rect x="317" y="103" width="1" height="42" fill="#000"/>
<rect x="315" y="109" width="5" height="29" fill="#000"/>
<rect x="325" y="126" width="1" height="36" fill="#000"/>
<rect x="323" y="137" width="5" height="10" fill="#000"/>
<rect x="333" y="54" width="1" height="96" fill="#000"/>
<rect x="331" y="72" width="5" height="75" fill="#000"/>
<rect x="332" y="73" width="3" height="73" fill="#fff"/>
<rect x="341" y="60" width="1" height="51" fill="#000"/>
<rect x="339" y="72" width="5" height="32" fill="#000"/>
<rect x="349" y="102" width="1" height="4" fill="#000"/>
<rect x="347" y="103" width="5" height="3" fill="#000"/>
<rect x="348" y="104" width="3" height="1" fill="#fff"/>
<rect x="357" y="85" width="1" height="38" fill="#000"/>
<rect x="355" y="103" width="5" height="18" fill="#000"/>
<rect x="365" y="113" width="1" height="54" fill="#000"/>
<rect x="363" y="119" width="5" height="44" fill="#000"/>
<rect x="373" y="162" width="1" height="30" fill="#000"/>
<rect x="371" y="163" width="5" height="22" fill="#000"/>
<rect x="381" y="176" width="1" height="53" fill="#000"/>
<rect x="379" y="184" width="5" height="35" fill="#000"/>
<rect x="389" y="212" width="1" height="66" fill="#000"/>
<rect x="387" y="218" width="5" height="56" fill="#000"/>
<rect x="397" y="266" width="1" height="9" fill="#000"/>
<rect x="395" y="267" width="5" height="8" fill="#000"/>
<rect x="405" y="261" width="1" height="27" fill="#000"/>
<rect x="403" y="273" width="5" height="11" fill="#000"/>
<rect x="413" y="271" width="1" height="50" fill="#000"/>
<rect x="411" y="283" width="5" height="31" fill="#000"/>
<rect x="421" y="282" width="1" height="83" fill="#000"/>
<rect x="419" y="313" width="5" height="37" fill="#000"/>
<rect x="429" y="321" width="1" height="91" fill="#000"/>
<rect x="427" y="349" width="5" height="55" fill="#000"/>
<rect x="437" y="382" width="1" height="70" fill="#000"/>
<rect x="435" y="402" width="5" height="10" fill="#000"/>
<rect x="445" y="412" width="1" height="6" fill="#000"/>
<rect x="443" y="417" width="5" height="1" fill="#000"/>
<rect x="453" y="400" width="1" height="71" fill="#000"/>
<rect x="451" y="418" width="5" height="35" fill="#000"/>
<rect x="461" y="404" width="1" height="61" fill="#000"/>
<rect x="459" y="452" width="5" height="1" fill="#000"/>
<rect x="469" y="427" width="1" height="132" fill="#000"/>
<rect x="467" y="452" width="5" height="8" fill="#000"/>
<rect x="477" y="379" width="1" height="94" fill="#000"/>
<rect x="475" y="392" width="5" height="67" fill="#000"/>
<rect x="476" y="393" width="3" height="65" fill="#fff"/>
<rect x="485" y="383" width="1" height="40" fill="#000"/>
<rect x="483" y="392" width="5" height="25" fill="#000"/>
<rect x="493" y="424" width="1" height="12" fill="#000"/>
<rect x="491" y="426" width="5" height="9" fill="#000"/>
<rect x="501" y="411" width="1" height="63" fill="#000"/>
<rect x="499" y="434" width="5" height="28" fill="#000"/>
<rect x="509" y="383" width="1" height="89" fill="#000"/>
<rect x="507" y="409" width="5" height="52" fill="#000"/>
<rect x="508" y="410" width="3" height="50" fill="#fff"/>
<rect x="517" y="395" width="1" height="91" fill="#000"/>
<rect x="515" y="410" width="5" height="53" fill="#000"/>
<rect x="525" y="417" width="1" height="46" fill="#000"/>
<rect x="523" y="440" width="5" height="23" fill="#000"/>
<rect x="524" y="441" width="3" height="21" fill="#fff"/>
<rect x="533" y="411" width="1" height="32" fill="#000"/>
<rect x="531" y="426" width="5" height="15" fill="#000"/>
<rect x="532" y="427" width="3" height="13" fill="#fff"/>
<rect x="541" y="422" width="1" height="7" fill="#000"/>
<rect x="539" y="423" width="5" height="2" fill="#000"/>
<rect x="549" y="419" width="1" height="44" fill="#000"/>
<rect x="547" y="423" width="5" height="39" fill="#000"/>
<rect x="557" y="411" width="1" height="50" fill="#000"/>
<rect x="555" y="438" width="5" height="23" fill="#000"/>
<rect x="556" y="439" width="3" height="21" fill="#fff"/>
<rect x="565" y="406" width="1" height="34" fill="#000"/>
<rect x="563" y="425" width="5" height="14" fill="#000"/>
<rect x="564" y="426" width="3" height="12" fill="#fff"/>
<rect x="573" y="425" width="1" height="42" fill="#000"/>
<rect x="571" y="426" width="5" height="35" fill="#000"/>
<rect x="581" y="433" width="1" height="53" fill="#000"/>
<rect x="579" y="460" width="5" height="6" fill="#000"/>
<rect x="589" y="515" width="1" height="21" fill="#000"/>
<rect x="587" y="522" width="5" height="13" fill="#000"/>
<rect x="588" y="523" width="3" height="11" fill="#fff"/>
<rect x="597" y="420" width="1" height="102" fill="#000"/>
<rect x="595" y="443" width="5" height="79" fill="#000"/>
<rect x="596" y="444" width="3" height="77" fill="#fff"/>
<rect x="605" y="434" width="1" height="39" fill="#000"/>
<rect x="603" y="443" width="5" height="20" fill="#000"/>
<rect x="613" y="452" width="1" height="38" fill="#000"/>
<rect x="611" y="461" width="5" height="20" fill="#000"/>
<rect x="621" y="463" width="1" height="46" fill="#000"/>
<rect x="619" y="480" width="5" height="7" fill="#000"/>
<rect x="629" y="479" width="1" height="44" fill="#000"/>
<rect x="627" y="486" width="5" height="10" fill="#000"/>
<rect x="637" y="487" width="1" height="12" fill="#000"/>
<rect x="635" y="494" width="5" height="5" fill="#000"/>
<rect x="645" y="486" width="1" height="32" fill="#000"/>
<rect x="643" y="497" width="5" height="19" fill="#000"/>
<rect x="653" y="450" width="1" height="96" fill="#000"/>
<rect x="651" y="451" width="5" height="65" fill="#000"/>
<rect x="652" y="452" width="3" height="63" fill="#fff"/>
<rect x="661" y="404" width="1" height="53" fill="#000"/>
<rect x="659" y="410" width="5" height="42" fill="#000"/>
<rect x="660" y="411" width="3" height="40" fill="#fff"/>
<rect x="669" y="368" width="1" height="43" fill="#000"/>
<rect x="667" y="391" width="5" height="19" fill="#000"/>
<rect x="668" y="392" width="3" height="17" fill="#fff"/>
<rect x="677" y="329" width="1" height="68" fill="#000"/>
<rect x="675" y="346" width="5" height="45" fill="#000"/>
<rect x="676" y="347" width="3" height="43" fill="#fff"/>
<rect x="685" y="344" width="1" height="7" fill="#000"/>
<rect x="683" y="345" width="5" height="4" fill="#000"/>
<rect x="693" y="311" width="1" height="49" fill="#000"/>
<rect x="691" y="326" width="5" height="22" fill="#000"/>
<rect x="692" y="327" width="3" height="20" fill="#fff"/>
<rect x="701" y="318" width="1" height="28" fill="#000"/>
<rect x="699" y="326" width="5" height="8" fill="#000"/>
<rect x="709" y="300" width="1" height="46" fill="#000"/>
<rect x="707" y="312" width="5" height="22" fill="#000"/>
<rect x="708" y="313" width="3" height="20" fill="#fff"/>
<rect x="717" y="288" width="1" height="43" fill="#000"/>
<rect x="715" y="312" width="5" height="16" fill="#000"/>
<rect x="725" y="293" width="1" height="40" fill="#000"/>
<rect x="723" y="305" width="5" height="23" fill="#000"/>
<rect x="724" y="306" width="3" height="21" fill="#fff"/>
<rect x="733" y="302" width="1" height="9" fill="#000"/>
<rect x="731" y="305" width="5" height="5" fill="#000"/>
<rect x="741" y="301" width="1" height="38" fill="#000"/>
<rect x="739" y="309" width="5" height="21" fill="#000"/>
<rect x="749" y="319" width="1" height="49" fill="#000"/>
<rect x="747" y="324" width="5" height="5" fill="#000"/>
<rect x="748" y="325" width="3" height="3" fill="#fff"/>
<rect x="757" y="323" width="1" height="68" fill="#000"/>
<rect x="755" y="323" width="5" height="54" fill="#000"/>
<rect x="765" y="376" width="1" height="55" fill="#000"/>
<rect x="763" y="376" width="5" height="41" fill="#000"/>
<rect x="773" y="394" width="1" height="62" fill="#000"/>
<rect x="771" y="416" width="5" height="36" fill="#000"/>
<rect x="781" y="439" width="1" height="7" fill="#000"/>
<rect x="779" y="443" width="5" height="3" fill="#000"/>
<rect x="789" y="428" width="1" height="21" fill="#000"/>
<rect x="787" y="438" width="5" height="7" fill="#000"/>
<rect x="788" y="439" width="3" height="5" fill="#fff"/>
<rect x="797" y="399" width="1" height="51" fill="#000"/>
<rect x="795" y="409" width="5" height="30" fill="#000"/>
<rect x="796" y="410" width="3" height="28" fill="#fff"/>
<rect x="805" y="401" width="1" height="81" fill="#000"/>
<rect x="803" y="408" width="5" height="55" fill="#000"/>
<rect x="813" y="429" width="1" height="44" fill="#000"/>
<rect x="811" y="463" width="5" height="2" fill="#000"/>
<rect x="821" y="431" width="1" height="46" fill="#000"/>
<rect x="819" y="454" width="5" height="11" fill="#000"/>
<rect x="820" y="455" width="3" height="9" fill="#fff"/>
<rect x="829" y="448" width="1" height="9" fill="#000"/>
<rect x="827" y="454" width="5" height="3" fill="#000"/>
<rect x="828" y="455" width="3" height="1" fill="#fff"/>
<rect x="837" y="442" width="1" height="37" fill="#000"/>
<rect x="835" y="454" width="5" height="14" fill="#000"/>
<rect x="845" y="436" width="1" height="130" fill="#000"/>
<rect x="843" y="467" width="5" height="54" fill="#000"/>
<rect x="853" y="506" width="1" height="61" fill="#000"/>
<rect x="851" y="520" width="5" height="1" fill="#000"/>
<rect x="861" y="464" width="1" height="64" fill="#000"/>
<rect x="859" y="474" width="5" height="46" fill="#000"/>
<rect x="860" y="475" width="3" height="44" fill="#fff"/>
<rect x="869" y="438" width="1" height="39" fill="#000"/>
<rect x="867" y="442" width="5" height="33" fill="#000"/>
<rect x="868" y="443" width="3" height="31" fill="#fff"/>
<rect x="877" y="449" width="1" height="7" fill="#000"/>
<rect x="875" y="451" width="5" height="5" fill="#000"/>
<rect x="876" y="452" width="3" height="3" fill="#fff"/>
<rect x="885" y="450" width="1" height="45" fill="#000"/>
<rect x="883" y="450" width="5" height="40" fill="#000"/>
<rect x="893" y="459" width="1" height="44" fill="#000"/>
<rect x="891" y="490" width="5" height="6" fill="#000"/>
<rect x="901" y="468" width="1" height="50" fill="#000"/>
<rect x="899" y="495" width="5" height="12" fill="#000"/>
<rect x="909" y="437" width="1" height="77" fill="#000"/>
<rect x="907" y="452" width="5" height="55" fill="#000"/>
<rect x="908" y="453" width="3" height="53" fill="#fff"/>
<rect x="917" y="392" width="1" height="65" fill="#000"/>
<rect x="915" y="405" width="5" height="48" fill="#000"/>
<rect x="916" y="406" width="3" height="46" fill="#fff"/>
<rect x="925" y="409" width="1" height="11" fill="#000"/>
<rect x="923" y="410" width="5" height="3" fill="#000"/>
<rect x="924" y="411" width="3" height="1" fill="#fff"/>
<rect x="933" y="404" width="1" height="63" fill="#000"/>
<rect x="931" y="410" width="5" height="27" fill="#000"/>
<rect x="941" y="420" width="1" height="58" fill="#000"/>
<rect x="939" y="438" width="5" height="27" fill="#000"/>
<rect x="949" y="448" width="1" height="53" fill="#000"/>
<rect x="947" y="460" width="5" height="5" fill="#000"/>
<rect x="948" y="461" width="3" height="3" fill="#fff"/>
<rect x="957" y="364" width="1" height="100" fill="#000"/>
<rect x="955" y="375" width="5" height="87" fill="#000"/>
<rect x="956" y="376" width="3" height="85" fill="#fff"/>
<rect x="965" y="339" width="1" height="39" fill="#000"/>
<rect x="963" y="339" width="5" height="37" fill="#000"/>
<rect x="964" y="340" width="3" height="35" fill="#fff"/>
<rect x="973" y="343" width="1" height="6" fill="#000"/>
<rect x="971" y="345" width="5" height="4" fill="#000"/>
<rect x="972" y="346" width="3" height="2" fill="#fff"/>
<rect x="981" y="305" width="1" height="42" fill="#000"/>
<rect x="979" y="318" width="5" height="29" fill="#000"/>
<rect x="980" y="319" width="3" height="27" fill="#fff"/>
<rect x="989" y="302" width="1" height="42" fill="#000"/>
<rect x="987" y="317" width="5" height="14" fill="#000"/>
<rect x="997" y="330" width="1" height="34" fill="#000"/>
<rect x="995" y="330" width="5" height="14" fill="#000"/>
<rect x="1005" y="334" width="1" height="59" fill="#000"/>
<rect x="1003" y="343" width="5" height="43" fill="#000"/>
<rect x="1013" y="360" width="1" height="35" fill="#000"/>
<rect x="1011" y="381" width="5" height="5" fill="#000"/>
<rect x="1012" y="382" width="3" height="3" fill="#fff"/>
<rect x="1021" y="376" width="1" height="5" fill="#000"/>
<rect x="1019" y="378" width="5" height="1" fill="#000"/>
<rect x="1029" y="349" width="1" height="44" fill="#000"/>
<rect x="1027" y="356" width="5" height="23" fill="#000"/>
<rect x="1028" y="357" width="3" height="21" fill="#fff"/>
<rect x="1037" y="316" width="1" height="42" fill="#000"/>
<rect x="1035" y="336" width="5" height="22" fill="#000"/>
<rect x="1036" y="337" width="3" height="20" fill="#fff"/>
<rect x="1045" y="277" width="1" height="69" fill="#000"/>
<rect x="1043" y="285" width="5" height="51" fill="#000"/>
<rect x="1044" y="286" width="3" height="49" fill="#fff"/>
<rect x="1053" y="244" width="1" height="59" fill="#000"/>
<rect x="1051" y="282" width="5" height="9" fill="#000"/>
<rect x="1061" y="255" width="1" height="47" fill="#000"/>
<rect x="1059" y="271" width="5" height="20" fill="#000"/>
<rect x="1060" y="272" width="3" height="18" fill="#fff"/>
<rect x="1069" y="262" width="1" height="10" fill="#000"/>
<rect x="1067" y="262" width="5" height="9" fill="#000"/>
<rect x="1068" y="263" width="3" height="7" fill="#fff"/>
<rect x="1077" y="250" width="1" height="61" fill="#000"/>
<rect x="1075" y="262" width="5" height="34" fill="#000"/>
<rect x="1085" y="246" width="1" height="64" fill="#000"/>
<rect x="1083" y="294" width="5" height="2" fill="#000"/>
<rect x="1093" y="272" width="1" height="48" fill="#000"/>
<rect x="1091" y="294" width="5" height="17" fill="#000"/>
<rect x="1101" y="265" width="1" height="65" fill="#000"/>
<rect x="1099" y="282" width="5" height="28" fill="#000"/>
<rect x="1100" y="283" width="3" height="26" fill="#fff"/>
<rect x="1109" y="273" width="1" height="74" fill="#000"/>
<rect x="1107" y="282" width="5" height="56" fill="#000"/>
<rect x="1117" y="329" width="1" height="8" fill="#000"/>
<rect x="1115" y="334" width="5" height="3" fill="#000"/>
<rect x="1116" y="335" width="3" height="1" fill="#fff"/>
<rect x="1125" y="324" width="1" height="25" fill="#000"/>
<rect x="1123" y="334" width="5" height="12" fill="#000"/>
<rect x="1133" y="334" width="1" height="33" fill="#000"/>
<rect x="1131" y="346" width="5" height="9" fill="#000"/>
<rect x="1141" y="334" width="1" height="46" fill="#000"/>
<rect x="1139" y="354" width="5" height="3" fill="#000"/>
<rect x="1149" y="354" width="1" height="90" fill="#000"/>
<rect x="1147" y="357" width="5" height="66" fill="#000"/>
<rect x="1157" y="385" width="1" height="45" fill="#000"/>
<rect x="1155" y="387" width="5" height="36" fill="#000"/>
<rect x="1156" y="388" width="3" height="34" fill="#fff"/>
<rect x="1165" y="385" width="1" height="5" fill="#000"/>
<rect x="1163" y="387" width="5" height="3" fill="#000"/>
<rect x="1164" y="388" width="3" height="1" fill="#fff"/>
<rect x="1173" y="378" width="1" height="30" fill="#000"/>
<rect x="1171" y="387" width="5" height="14" fill="#000"/>
<rect x="1181" y="362" width="1" height="63" fill="#000"/>
<rect x="1179" y="375" width="5" height="26" fill="#000"/>
<rect x="1180" y="376" width="3" height="24" fill="#fff"/>
<rect x="1189" y="367" width="1" height="52" fill="#000"/>
<rect x="1187" y="375" width="5" height="34" fill="#000"/>
<rect x="1197" y="388" width="1" height="39" fill="#000"/>
<rect x="1195" y="408" width="5" height="13" fill="#000"/>
<rect x="1205" y="401" width="1" height="29" fill="#000"/>
<rect x="1203" y="420" width="5" height="6" fill="#000"/>
<rect x="1213" y="416" width="1" height="7" fill="#000"/>
<rect x="1211" y="416" width="5" height="4" fill="#000"/>
<rect x="1212" y="417" width="3" height="2" fill="#fff"/>
<rect x="1221" y="406" width="1" height="40" fill="#000"/>
<rect x="1219" y="416" width="5" height="20" fill="#000"/>
<rect x="1229" y="411" width="1" height="33" fill="#000"/>
<rect x="1227" y="422" width="5" height="14" fill="#000"/>
<rect x="1228" y="423" width="3" height="12" fill="#fff"/>
<rect x="1237" y="416" width="1" height="41" fill="#000"/>
<rect x="1235" y="422" width="5" height="24" fill="#000"/>
<rect x="1245" y="438" width="1" height="16" fill="#000"/>
<rect x="1243" y="445" width="5" height="1" fill="#000"/>
<rect x="1253" y="431" width="1" height="32" fill="#000"/>
<rect x="1251" y="445" width="5" height="6" fill="#000"/>
<rect x="1261" y="446" width="1" height="8" fill="#000"/>
<rect x="1259" y="449" width="5" height="1" fill="#000"/>
<rect x="1269" y="374" width="1" height="77" fill="#000"/>
<rect x="1267" y="383" width="5" height="67" fill="#000"/>
<rect x="1268" y="384" width="3" height="65" fill="#fff"/>
<rect x="1277" y="328" width="1" height="58" fill="#000"/>
<rect x="1275" y="344" width="5" height="41" fill="#000"/>
<rect x="1276" y="345" width="3" height="39" fill="#fff"/>
<rect x="1285" y="337" width="1" height="53" fill="#000"/>
<rect x="1283" y="343" width="5" height="8" fill="#000"/>
</g>
<g shape-rendering="crispEdges">
<rect x="5" y="648" width="1" height="48" fill="#c0c0c0"/>
<rect x="13" y="648" width="1" height="43" fill="#c0c0c0"/>
<rect x="21" y="648" width="1" height="33" fill="#c0c0c0"/>
<rect x="29" y="648" width="1" height="22" fill="#c0c0c0"/>
<rect x="37" y="648" width="1" height="16" fill="#c0c0c0"/>
<rect x="45" y="648" width="1" height="10" fill="#c0c0c0"/>
<rect x="53" y="648" width="1" height="1" fill="#c0c0c0"/>
<rect x="61" y="644" width="1" height="5" fill="#c0c0c0"/>
<rect x="69" y="645" width="1" height="4" fill="#c0c0c0"/>
<rect x="77" y="646" width="1" height="3" fill="#c0c0c0"/>
<rect x="85" y="648" width="1" height="2" fill="#c0c0c0"/>
<rect x="93" y="648" width="1" height="9" fill="#c0c0c0"/>
<rect x="101" y="648" width="1" height="20" fill="#c0c0c0"/>
<rect x="109" y="648" width="1" height="28" fill="#c0c0c0"/>
<rect x="117" y="648" width="1" height="37" fill="#c0c0c0"/>
<rect x="125" y="648" width="1" height="39" fill="#c0c0c0"/>
<rect x="133" y="648" width="1" height="40" fill="#c0c0c0"/>
<rect x="141" y="648" width="1" height="35" fill="#c0c0c0"/>
<rect x="149" y="648" width="1" height="30" fill="#c0c0c0"/>
<rect x="157" y="648" width="1" height="23" fill="#c0c0c0"/>
<rect x="165" y="648" width="1" height="14" fill="#c0c0c0"/>
<rect x="173" y="648" width="1" height="8" fill="#c0c0c0"/>
<rect x="181" y="648" width="1" height="1" fill="#c0c0c0"/>
<rect x="189" y="638" width="1" height="11" fill="#c0c0c0"/>
<rect x="197" y="629" width="1" height="20" fill="#c0c0c0"/>
<rect x="205" y="621" width="1" height="28" fill="#c0c0c0"/>
<rect x="213" y="624" width="1" height="25" fill="#c0c0c0"/>
<rect x="221" y="622" width="1" height="27" fill="#c0c0c0"/>
<rect x="229" y="616" width="1" height="33" fill="#c0c0c0"/>
<rect x="237" y="612" width="1" height="37" fill="#c0c0c0"/>
<rect x="245" y="616" width="1" height="33" fill="#c0c0c0"/>
<rect x="253" y="619" width="1" height="30" fill="#c0c0c0"/>
<rect x="261" y="623" width="1" height="26" fill="#c0c0c0"/>
<rect x="269" y="634" width="1" height="15" fill="#c0c0c0"/>
<rect x="277" y="637" width="1" height="12" fill="#c0c0c0"/>
<rect x="285" y="638" width="1" height="11" fill="#c0c0c0"/>
<rect x="293" y="632" width="1" height="17" fill="#c0c0c0"/>
<rect x="301" y="628" width="1" height="21" fill="#c0c0c0"/>
<rect x="309" y="622" width="1" height="27" fill="#c0c0c0"/>
<rect x="317" y="620" width="1" height="29" fill="#c0c0c0"/>
<rect x="325" y="621" width="1" height="28" fill="#c0c0c0"/>
<rect x="333" y="613" width="1" height="36" fill="#c0c0c0"/>
<rect x="341" y="611" width="1" height="38" fill="#c0c0c0"/>
<rect x="349" y="609" width="1" height="40" fill="#c0c0c0"/>
<rect x="357" y="611" width="1" height="38" fill="#c0c0c0"/>
<rect x="365" y="617" width="1" height="32" fill="#c0c0c0"/>
<rect x="373" y="625" width="1" height="24" fill="#c0c0c0"/>
<rect x="381" y="636" width="1" height="13" fill="#c0c0c0"/>
<rect x="389" y="648" width="1" height="2" fill="#c0c0c0"/>
<rect x="397" y="648" width="1" height="14" fill="#c0c0c0"/>
<rect x="405" y="648" width="1" height="24" fill="#c0c0c0"/>
<rect x="413" y="648" width="1" height="35" fill="#c0c0c0"/>
<rect x="421" y="648" width="1" height="47" fill="#c0c0c0"/>
<rect x="429" y="648" width="1" height="63" fill="#c0c0c0"/>
<rect x="437" y="648" width="1" height="75" fill="#c0c0c0"/>
<rect x="445" y="648" width="1" height="85" fill="#c0c0c0"/>
<rect x="453" y="648" width="1" height="96" fill="#c0c0c0"/>
<rect x="461" y="648" width="1" height="103" fill="#c0c0c0"/>
<rect x="469" y="648" width="1" height="108" fill="#c0c0c0"/>
<rect x="477" y="648" width="1" height="103" fill="#c0c0c0"/>
<rect x="485" y="648" width="1" height="101" fill="#c0c0c0"/>
<rect x="493" y="648" width="1" height="100" fill="#c0c0c0"/>
<rect x="501" y="648" width="1" height="102" fill="#c0c0c0"/>
<rect x="509" y="648" width="1" height="96" fill="#c0c0c0"/>
<rect x="517" y="648" width="1" height="96" fill="#c0c0c0"/>
<rect x="525" y="648" width="1" height="93" fill="#c0c0c0"/>
<rect x="533" y="648" width="1" height="87" fill="#c0c0c0"/>
<rect x="541" y="648" width="1" height="82" fill="#c0c0c0"/>
<rect x="549" y="648" width="1" height="81" fill="#c0c0c0"/>
<rect x="557" y="648" width="1" height="77" fill="#c0c0c0"/>
<rect x="565" y="648" width="1" height="71" fill="#c0c0c0"/>
<rect x="573" y="648" width="1" height="70" fill="#c0c0c0"/>
<rect x="581" y="648" width="1" height="69" fill="#c0c0c0"/>
<rect x="589" y="648" width="1" height="74" fill="#c0c0c0"/>
<rect x="597" y="648" width="1" height="67" fill="#c0c0c0"/>
<rect x="605" y="648" width="1" height="64" fill="#c0c0c0"/>
<rect x="613" y="648" width="1" height="63" fill="#c0c0c0"/>
<rect x="621" y="648" width="1" height="62" fill="#c0c0c0"/>
<rect x="629" y="648" width="1" height="61" fill="#c0c0c0"/>
<rect x="637" y="648" width="1" height="61" fill="#c0c0c0"/>
<rect x="645" y="648" width="1" height="61" fill="#c0c0c0"/>
<rect x="653" y="648" width="1" height="54" fill="#c0c0c0"/>
<rect x="661" y="648" width="1" height="43" fill="#c0c0c0"/>
<rect x="669" y="648" width="1" height="31" fill="#c0c0c0"/>
<rect x="677" y="648" width="1" height="16" fill="#c0c0c0"/>
<rect x="685" y="648" width="1" height="5" fill="#c0c0c0"/>
<rect x="693" y="642" width="1" height="7" fill="#c0c0c0"/>
<rect x="701" y="634" width="1" height="15" fill="#c0c0c0"/>
<rect x="709" y="625" width="1" height="24" fill="#c0c0c0"/>
<rect x="717" y="620" width="1" height="29" fill="#c0c0c0"/>
<rect x="725" y="614" width="1" height="35" fill="#c0c0c0"/>
<rect x="733" y="610" width="1" height="39" fill="#c0c0c0"/>
<rect x="741" y="610" width="1" height="39" fill="#c0c0c0"/>
<rect x="749" y="610" width="1" height="39" fill="#c0c0c0"/>
<rect x="757" y="616" width="1" height="33" fill="#c0c0c0"/>
<rect x="765" y="626" width="1" height="23" fill="#c0c0c0"/>
<rect x="773" y="638" width="1" height="11" fill="#c0c0c0"/>
<rect x="781" y="647" width="1" height="2" fill="#c0c0c0"/>
<rect x="789" y="648" width="1" height="5" fill="#c0c0c0"/>
<rect x="797" y="648" width="1" height="6" fill="#c0c0c0"/>
<rect x="805" y="648" width="1" height="14" fill="#c0c0c0"/>
<rect x="813" y="648" width="1" height="19" fill="#c0c0c0"/>
<rect x="821" y="648" width="1" height="22" fill="#c0c0c0"/>
<rect x="829" y="648" width="1" height="25" fill="#c0c0c0"/>
<rect x="837" y="648" width="1" height="28" fill="#c0c0c0"/>
<rect x="845" y="648" width="1" height="36" fill="#c0c0c0"/>
<rect x="853" y="648" width="1" height="42" fill="#c0c0c0"/>
<rect x="861" y="648" width="1" height="41" fill="#c0c0c0"/>
<rect x="869" y="648" width="1" height="36" fill="#c0c0c0"/>
<rect x="877" y="648" width="1" height="32" fill="#c0c0c0"/>
<rect x="885" y="648" width="1" height="34" fill="#c0c0c0"/>
<rect x="893" y="648" width="1" height="35" fill="#c0c0c0"/>
<rect x="901" y="648" width="1" height="37" fill="#c0c0c0"/>
<rect x="909" y="648" width="1" height="32" fill="#c0c0c0"/>
<rect x="917" y="648" width="1" height="22" fill="#c0c0c0"/>
<rect x="925" y="648" width="1" height="15" fill="#c0c0c0"/>
<rect x="933" y="648" width="1" height="12" fill="#c0c0c0"/>
<rect x="941" y="648" width="1" height="13" fill="#c0c0c0"/>
<rect x="949" y="648" width="1" height="13" fill="#c0c0c0"/>
<rect x="957" y="648" width="1" height="3" fill="#c0c0c0"/>
<rect x="965" y="639" width="1" height="10" fill="#c0c0c0"/>
<rect x="973" y="631" width="1" height="18" fill="#c0c0c0"/>
<rect x="981" y="621" width="1" height="28" fill="#c0c0c0"/>
<rect x="989" y="615" width="1" height="34" fill="#c0c0c0"/>
<rect x="997" y="612" width="1" height="37" fill="#c0c0c0"/>
<rect x="1005" y="616" width="1" height="33" fill="#c0c0c0"/>
<rect x="1013" y="618" width="1" height="31" fill="#c0c0c0"/>
<rect x="1021" y="620" width="1" height="29" fill="#c0c0c0"/>
<rect x="1029" y="619" width="1" height="30" fill="#c0c0c0"/>
<rect x="1037" y="617" width="1" height="32" fill="#c0c0c0"/>
<rect x="1045" y="609" width="1" height="40" fill="#c0c0c0"/>
<rect x="1053" y="604" width="1" height="45" fill="#c0c0c0"/>
<rect x="1061" y="598" width="1" height="51" fill="#c0c0c0"/>
<rect x="1069" y="594" width="1" height="55" fill="#c0c0c0"/>
<rect x="1077" y="594" width="1" height="55" fill="#c0c0c0"/>
<rect x="1085" y="595" width="1" height="54" fill="#c0c0c0"/>
<rect x="1093" y="599" width="1" height="50" fill="#c0c0c0"/>
<rect x="1101" y="599" width="1" height="50" fill="#c0c0c0"/>
<rect x="1109" y="606" width="1" height="43" fill="#c0c0c0"/>
<rect x="1117" y="611" width="1" height="38" fill="#c0c0c0"/>
<rect x="1125" y="617" width="1" height="32" fill="#c0c0c0"/>
<rect x="1133" y="623" width="1" height="26" fill="#c0c0c0"/>
<rect x="1141" y="629" width="1" height="20" fill="#c0c0c0"/>
<rect x="1149" y="641" width="1" height="8" fill="#c0c0c0"/>
<rect x="1157" y="646" width="1" height="3" fill="#c0c0c0"/>
<rect x="1165" y="648" width="1" height="2" fill="#c0c0c0"/>
<rect x="1173" y="648" width="1" height="7" fill="#c0c0c0"/>
<rect x="1181" y="648" width="1" height="8" fill="#c0c0c0"/>
<rect x="1189" y="648" width="1" height="12" fill="#c0c0c0"/>
<rect x="1197" y="648" width="1" height="17" fill="#c0c0c0"/>
<rect x="1205" y="648" width="1" height="21" fill="#c0c0c0"/>
<rect x="1213" y="648" width="1" height="23" fill="#c0c0c0"/>
<rect x="1221" y="648" width="1" height="27" fill="#c0c0c0"/>
<rect x="1229" y="648" width="1" height="27" fill="#c0c0c0"/>
<rect x="1237" y="648" width="1" height="31" fill="#c0c0c0"/>
<rect x="1245" y="648" width="1" height="33" fill="#c0c0c0"/>
<rect x="1253" y="648" width="1" height="34" fill="#c0c0c0"/>
<rect x="1261" y="648" width="1" height="35" fill="#c0c0c0"/>
<rect x="1269" y="648" width="1" height="28" fill="#c0c0c0"/>
<rect x="1277" y="648" width="1" height="17" fill="#c0c0c0"/>
<rect x="1285" y="648" width="1" height="10" fill="#c0c0c0"/>
</g>
<path d="M1107 599.5h3M1113 599.5h3M1119 599.5h2M1101 600.5h3M1121 600.5h1M1125 600.5h2M1096 601.5h2M1127 601.5h1M1095 602.5h1M1131 602.5h1M1090 603.5h2M1132 603.5h2M1089 604.5h1M1084 605.5h2M1137 605.5h1M1083 606.5h1M1138 606.5h2M1077 607.5h3M1072 608.5h2M1143 608.5h1M1071 609.5h1M1144 609.5h1M1065 610.5h3M1145 610.5h1M1060 611.5h2M1059 612.5h1M1149 612.5h1M1053 613.5h3M1150 613.5h1M1048 614.5h2M1151 614.5h1M370 615.5h2M1047 615.5h1M363 616.5h3M369 616.5h1M375 616.5h3M1042 616.5h2M357 617.5h3M381 617.5h2M765 617.5h3M1041 617.5h1M1155 617.5h2M383 618.5h1M760 618.5h2M771 618.5h3M1036 618.5h2M1157 618.5h1M261 619.5h3M351 619.5h3M387 619.5h1M759 619.5h1M777 619.5h2M1035 619.5h1M256 620.5h2M267 620.5h3M388 620.5h2M755 620.5h1M779 620.5h1M1029 620.5h3M255 621.5h1M273 621.5h3M346 621.5h2M753 621.5h2M783 621.5h1M1161 621.5h1M250 622.5h2M279 622.5h3M345 622.5h1M784 622.5h2M1025 622.5h1M1162 622.5h1M249 623.5h1M285 623.5h3M340 623.5h2M393 623.5h2M749 623.5h1M1023 623.5h2M1163 623.5h1M245 624.5h1M291 624.5h3M339 624.5h1M395 624.5h1M748 624.5h1M789 624.5h1M243 625.5h2M297 625.5h3M335 625.5h1M747 625.5h1M790 625.5h2M1019 625.5h1M303 626.5h3M333 626.5h2M1017 626.5h2M1167 626.5h2M239 627.5h1M309 627.5h3M315 627.5h3M321 627.5h3M327 627.5h3M399 627.5h1M1169 627.5h1M237 628.5h2M400 628.5h1M742 628.5h2M795 628.5h2M1013 628.5h1M401 629.5h1M741 629.5h1M797 629.5h1M1011 629.5h2M1173 630.5h1M233 631.5h1M1174 631.5h1M232 632.5h1M405 632.5h1M801 632.5h2M1006 632.5h2M1175 632.5h1M231 633.5h1M406 633.5h1M737 633.5h1M803 633.5h1M1005 633.5h1M407 634.5h1M736 634.5h1M735 635.5h1M1179 635.5h2M226 636.5h2M807 636.5h1M1000 636.5h2M1181 636.5h1M225 637.5h1M808 637.5h1M999 637.5h1M411 638.5h1M809 638.5h1M412 639.5h1M731 639.5h1M1185 639.5h2M221 640.5h1M413 640.5h1M730 640.5h1M994 640.5h2M1187 640.5h1M220 641.5h1M729 641.5h1M813 641.5h1M993 641.5h1M219 642.5h1M814 642.5h1M1191 642.5h1M815 643.5h1M1192 643.5h1M417.5 644v2M989 644.5h1M1193 644.5h1M214 645.5h2M726 645.5h1M988 645.5h1M213 646.5h1M418 646.5h1M725 646.5h1M819 646.5h2M987 646.5h1M1197 646.5h1M724 647.5h1M821 647.5h1M1198 647.5h1M1199 648.5h1M982 649.5h2M208 650.5h2M422.5 650v2M981 650.5h1M207 651.5h1M721 651.5h1M825 651.5h2M1203 651.5h2M423 652.5h1M720 652.5h1M827 652.5h1M1205 652.5h1M93 653.5h3M99 653.5h3M719 653.5h1M105 654.5h3M976 654.5h2M1209 654.5h1M87 655.5h3M111 655.5h2M203 655.5h1M831 655.5h1M975 655.5h1M1210 655.5h2M113 656.5h1M202 656.5h1M426.5 656v2M832 656.5h1M83 657.5h1M117 657.5h1M201 657.5h1M716 657.5h1M833 657.5h1M1215 657.5h1M81 658.5h2M118 658.5h2M427 658.5h1M715.5 658v2M1216 658.5h2M837 659.5h1M970 659.5h2M77 660.5h1M123 660.5h1M838 660.5h2M969 660.5h1M1221 660.5h2M76 661.5h1M124 661.5h2M197 661.5h1M1223 661.5h1M75 662.5h1M196 662.5h1M430.5 662v2M1227 662.5h1M195 663.5h1M711.5 663v2M843 663.5h2M965 663.5h1M1228 663.5h2M129 664.5h2M431 664.5h1M845 664.5h1M963 664.5h2M70 665.5h2M131 665.5h1M710 665.5h1M1233 665.5h1M69 666.5h1M190 666.5h2M1234 666.5h2M135 667.5h1M189 667.5h1M849 667.5h2M958 667.5h2M136 668.5h2M434 668.5h1M851 668.5h1M957 668.5h1M1239 668.5h3M435 669.5h1M706 669.5h1M1245 669.5h2M64 670.5h2M141 670.5h1M184 670.5h2M436 670.5h1M705.5 670v2M855 670.5h1M951 670.5h3M1247 670.5h1M63 671.5h1M142 671.5h2M183 671.5h1M856 671.5h2M1251 671.5h1M945 672.5h3M1252 672.5h2M147 673.5h1M178 673.5h2M861 673.5h2M940 673.5h2M148 674.5h2M177 674.5h1M438 674.5h1M863 674.5h1M939 674.5h1M1257 674.5h3M59 675.5h1M153 675.5h2M172 675.5h2M439 675.5h1M701 675.5h1M867 675.5h1M935 675.5h1M1263 675.5h2M1281 675.5h3M58 676.5h1M155 676.5h1M159 676.5h2M171 676.5h1M440 676.5h1M700 676.5h1M868 676.5h2M933 676.5h2M1265 676.5h1M1269 676.5h3M1275 676.5h3M57 677.5h1M161 677.5h1M165 677.5h3M699 677.5h1M873 677.5h2M875 678.5h1M927 678.5h3M879 679.5h3M53 680.5h1M442 680.5h1M885 680.5h2M922 680.5h2M52 681.5h1M443 681.5h1M696 681.5h1M887 681.5h1M921 681.5h1M51 682.5h1M444 682.5h1M695 682.5h1M891 682.5h3M915 682.5h3M694 683.5h1M897 683.5h3M903 683.5h3M909 683.5h3M46 685.5h2M45 686.5h1M446 686.5h1M447 687.5h1M690 687.5h1M448 688.5h1M688 688.5h2M41 689.5h1M40 690.5h1M39 691.5h1M450 692.5h1M684 692.5h1M451 693.5h1M683 693.5h1M34 694.5h2M452 694.5h1M682 694.5h1M33 695.5h1M678 697.5h1M29 698.5h1M454 698.5h1M677 698.5h1M28 699.5h1M455 699.5h1M676 699.5h1M27 700.5h1M456 700.5h1M672 701.5h1M670 702.5h2M23 703.5h1M22 704.5h1M458 704.5h1M21 705.5h1M459 705.5h1M665 705.5h2M460 706.5h1M664 706.5h1M660 707.5h1M17 708.5h1M658 708.5h2M16 709.5h1M15 710.5h1M463.5 710v2M652 710.5h3M648 711.5h1M11 712.5h1M464 712.5h1M642 712.5h1M646 712.5h2M10 713.5h1M634 713.5h3M640 713.5h2M9 714.5h1M628 714.5h3M624 715.5h1M5 716.5h1M467 716.5h1M622 716.5h2M3 717.5h2M468 717.5h1M616 717.5h3M469 718.5h1M612 718.5h1M610 719.5h2M604 720.5h3M473.5 722v2M599 722.5h2M598 723.5h1M474 724.5h1M592 724.5h3M588 725.5h1M586 726.5h2M478 728.5h1M580 728.5h3M479 729.5h1M480 730.5h1M575 730.5h2M574 731.5h1M570 732.5h1M484 733.5h1M568 733.5h2M485 734.5h1M486 735.5h1M563 735.5h2M562 736.5h1M490 738.5h1M556 738.5h3M491 739.5h2M552 739.5h1M550 740.5h2M546 741.5h1M496 742.5h2M544 742.5h2M498 743.5h1M540 743.5h1M502 744.5h1M538 744.5h2M503 745.5h2M532 746.5h3M508 747.5h3M528 747.5h1M514 748.5h3M520 748.5h3M526 748.5h2" fill="none" stroke="#ff0000" stroke-width="1" shape-rendering="crispEdges"/>
<g shape-rendering="crispEdges">
<line x1="-2" x2="1625" y1="800.5" y2="800.5" stroke="#c0c0c0" stroke-width="1" stroke-dasharray="3 3"/>
<line x1="-2" x2="1625" y1="847.5" y2="847.5" stroke="#c0c0c0" stroke-width="1" stroke-dasharray="3 3"/>
<line x1="-2" x2="1625" y1="903.5" y2="903.5" stroke="#c0c0c0" stroke-width="1" stroke-dasharray="3 3"/>
</g>
<path d="M1066 819.5h4M1061 820.5h5M1070.5 820v2M1059 821.5h2M1045 822.5h2M1057 822.5h2M1071 822.5h1M1044 823.5h1M1047 823.5h4M1055 823.5h2M1072 823.5h1M202 824.5h4M981 824.5h1M1043 824.5h1M1051 824.5h4M1073.5 824v2M196 825.5h6M205 825.5h1M979 825.5h2M982 825.5h2M1042 825.5h1M194 826.5h2M206.5 826v2M708 826.5h2M725 826.5h4M978 826.5h1M984 826.5h2M1041.5 826v2M1074 826.5h1M191 827.5h3M693 827.5h2M706 827.5h2M710 827.5h2M723 827.5h2M729 827.5h5M965 827.5h2M976 827.5h2M986 827.5h2M1075 827.5h1M189 828.5h2M207.5 828v3M333 828.5h1M691 828.5h2M695 828.5h4M703 828.5h3M712 828.5h2M721 828.5h2M734 828.5h1M964 828.5h1M967 828.5h4M974 828.5h2M988 828.5h3M1040 828.5h1M1076.5 828v2M187 829.5h2M229 829.5h2M332.5 829v2M334 829.5h1M689 829.5h2M699 829.5h4M714 829.5h2M719 829.5h2M735 829.5h1M962 829.5h2M971 829.5h3M991 829.5h2M1039 829.5h1M1101 829.5h1M186 830.5h1M228 830.5h1M231 830.5h4M335 830.5h1M687 830.5h2M716 830.5h3M736 830.5h1M961 830.5h1M993 830.5h3M1038 830.5h1M1077 830.5h9M1100 830.5h1M1102.5 830v2M184 831.5h2M208.5 831v2M227 831.5h1M235 831.5h3M331 831.5h1M336 831.5h1M677 831.5h10M737 831.5h2M960 831.5h1M996 831.5h2M1037 831.5h1M1086 831.5h2M1098 831.5h2M182 832.5h2M226 832.5h1M238.5 832v2M309 832.5h1M330.5 832v2M337 832.5h2M676 832.5h1M739 832.5h1M958 832.5h2M998.5 832v2M1035 832.5h2M1088 832.5h1M1097 832.5h1M1103.5 832v2M1277 832.5h2M53 833.5h1M181 833.5h1M209.5 833v3M225 833.5h1M307 833.5h2M310 833.5h1M339 833.5h1M675 833.5h1M740 833.5h1M746 833.5h4M957.5 833v2M1034 833.5h1M1089 833.5h2M1096 833.5h1M1276 833.5h1M1279 833.5h2M52 834.5h1M54 834.5h2M180 834.5h1M224 834.5h1M239.5 834v2M293 834.5h2M305 834.5h2M311 834.5h2M329 834.5h1M340 834.5h1M674 834.5h1M741 834.5h5M750.5 834v2M999 834.5h1M1032 834.5h2M1091 834.5h2M1094 834.5h2M1104.5 834v2M1275.5 834v2M1281 834.5h3M51 835.5h1M56 835.5h2M178 835.5h2M223 835.5h1M292.5 835v2M295 835.5h4M303 835.5h2M313 835.5h1M328.5 835v2M341 835.5h9M673 835.5h1M956.5 835v2M1000 835.5h1M1030 835.5h2M1093 835.5h1M1284 835.5h2M29 836.5h1M50 836.5h1M58 836.5h2M177 836.5h1M210.5 836v2M222 836.5h1M240 836.5h1M299 836.5h4M314 836.5h1M350 836.5h2M672 836.5h1M751.5 836v2M1001.5 836v2M1029 836.5h1M1105.5 836v2M1274 836.5h1M27 837.5h2M30 837.5h1M49.5 837v2M60 837.5h2M165 837.5h2M176 837.5h1M221 837.5h1M241.5 837v2M291 837.5h1M315 837.5h2M327 837.5h1M352 837.5h2M671 837.5h1M955.5 837v2M1027 837.5h2M1273 837.5h1M26 838.5h1M31 838.5h1M62.5 838v2M163 838.5h2M167 838.5h4M174 838.5h2M211.5 838v3M220 838.5h1M290.5 838v2M317 838.5h2M326.5 838v2M354 838.5h2M670 838.5h1M752.5 838v2M917 838.5h4M1002 838.5h1M1026 838.5h1M1106.5 838v2M1272 838.5h1M24 839.5h2M32 839.5h1M48 839.5h1M162 839.5h1M171 839.5h3M219 839.5h1M242 839.5h1M319 839.5h4M356 839.5h2M668 839.5h2M916.5 839v2M921 839.5h5M954.5 839v2M1003 839.5h1M1024 839.5h2M1271.5 839v2M22 840.5h2M33 840.5h2M47 840.5h1M63 840.5h1M160 840.5h2M218 840.5h1M243.5 840v2M289 840.5h1M323 840.5h3M358 840.5h1M666 840.5h2M753.5 840v2M926 840.5h1M1004.5 840v2M1022 840.5h2M1107.5 840v2M21 841.5h1M35 841.5h1M46 841.5h1M64 841.5h1M158 841.5h2M212.5 841v2M216 841.5h2M288.5 841v2M359 841.5h1M663 841.5h3M915 841.5h1M927 841.5h1M953.5 841v3M1018 841.5h4M1270 841.5h1M20.5 842v2M36 842.5h1M42 842.5h4M65.5 842v2M157 842.5h1M215 842.5h1M244.5 842v2M360 842.5h1M661 842.5h2M754.5 842v2M914 842.5h1M928 842.5h1M1005 842.5h13M1108.5 842v2M1269.5 842v2M37 843.5h5M156 843.5h1M213 843.5h2M287 843.5h1M361.5 843v2M660 843.5h1M913.5 843v2M929 843.5h2M19.5 844v2M66 844.5h1M154 844.5h2M213 844.5h1M245 844.5h10M286.5 844v2M659 844.5h1M755.5 844v2M931 844.5h1M952.5 844v2M1109.5 844v2M1114 844.5h5M1268.5 844v3M67 845.5h1M153 845.5h1M255 845.5h4M362 845.5h1M658 845.5h1M912 845.5h1M932 845.5h1M1110 845.5h4M1119 845.5h2M18 846.5h1M68.5 846v2M152 846.5h1M259 846.5h3M284 846.5h2M363 846.5h1M657.5 846v2M756.5 846v2M911 846.5h1M933 846.5h1M951.5 846v2M1121 846.5h3M17.5 847v2M74 847.5h4M150 847.5h2M262.5 847v2M282 847.5h2M364 847.5h1M910.5 847v2M934 847.5h1M1124 847.5h3M1267.5 847v3M69 848.5h5M78 848.5h1M148 848.5h2M279 848.5h3M365 848.5h1M656 848.5h1M757 848.5h1M935 848.5h1M950.5 848v2M1127 848.5h2M16 849.5h1M79.5 849v2M144 849.5h4M263 849.5h1M277 849.5h2M366 849.5h2M655 849.5h1M758 849.5h1M909 849.5h1M936 849.5h1M1129 849.5h3M15.5 850v2M141 850.5h3M264.5 850v2M276 850.5h1M368 850.5h2M654 850.5h1M759 850.5h1M869 850.5h2M908.5 850v2M937 850.5h2M949.5 850v2M1132 850.5h10M1266.5 850v3M5 851.5h2M80 851.5h1M140.5 851v2M275 851.5h1M370 851.5h2M653.5 851v2M760 851.5h1M868 851.5h1M871 851.5h4M939 851.5h1M948 851.5h1M1142.5 851v2M1181 851.5h1M4.5 852v2M7 852.5h2M14.5 852v2M81 852.5h1M265 852.5h1M274 852.5h1M372 852.5h2M761.5 852v2M797 852.5h1M867 852.5h1M875 852.5h3M907.5 852v2M940 852.5h1M944 852.5h4M1180 852.5h1M1182 852.5h1M9 853.5h3M82 853.5h1M139 853.5h1M266.5 853v2M273.5 853v2M374 853.5h1M652.5 853v2M796 853.5h1M798.5 853v2M866 853.5h1M878 853.5h1M941 853.5h3M1143.5 853v2M1179 853.5h1M1183 853.5h1M1265.5 853v3M3 854.5h1M12 854.5h2M83.5 854v2M138 854.5h1M375 854.5h2M762 854.5h1M795 854.5h1M865.5 854v2M879 854.5h1M906.5 854v2M1178 854.5h1M1184 854.5h1M2.5 855v2M137.5 855v2M267 855.5h1M272 855.5h1M377 855.5h1M651.5 855v2M763 855.5h1M794 855.5h1M799 855.5h1M880 855.5h1M1144.5 855v2M1177 855.5h1M1185 855.5h1M84 856.5h1M268.5 856v2M271 856.5h1M378 856.5h1M597 856.5h2M764 856.5h1M793 856.5h1M800 856.5h1M864 856.5h1M881.5 856v2M905.5 856v2M1157 856.5h10M1176 856.5h1M1186 856.5h1M1264.5 856v3M1 857.5h1M85 857.5h1M136 857.5h1M270 857.5h1M379 857.5h2M597 857.5h1M599 857.5h2M650.5 857v2M765 857.5h1M792 857.5h1M801.5 857v2M863 857.5h1M1145.5 857v2M1156 857.5h1M1167 857.5h2M1175 857.5h1M1187 857.5h1M0.5 858v2M86 858.5h2M135 858.5h1M269 858.5h1M381 858.5h1M596.5 858v2M601 858.5h3M766 858.5h1M791 858.5h1M862 858.5h1M882 858.5h1M904.5 858v2M1155.5 858v2M1169 858.5h3M1174 858.5h1M1188 858.5h1M88 859.5h2M134.5 859v2M382 859.5h1M564 859.5h2M604 859.5h3M649.5 859v2M767 859.5h1M790 859.5h1M802 859.5h1M861 859.5h1M883 859.5h1M1146.5 859v2M1172 859.5h2M1189 859.5h2M1263.5 859v3M90 860.5h2M383 860.5h1M562 860.5h2M566 860.5h1M595.5 860v2M607 860.5h2M768 860.5h1M788 860.5h2M803 860.5h1M820 860.5h11M860.5 860v2M884 860.5h1M903.5 860v2M1154 860.5h1M1191 860.5h2M1212 860.5h2M1229 860.5h1M92 861.5h2M130 861.5h4M384 861.5h1M559 861.5h3M567 861.5h2M609 861.5h3M648.5 861v2M769 861.5h2M784 861.5h4M804.5 861v2M818 861.5h2M831 861.5h2M885 861.5h4M1147.5 861v2M1153 861.5h1M1193 861.5h3M1210 861.5h2M1214 861.5h2M1227 861.5h2M1230 861.5h1M94 862.5h1M125 862.5h5M385.5 862v2M538 862.5h4M557 862.5h2M569 862.5h1M594.5 862v3M612 862.5h5M771 862.5h1M780 862.5h4M815 862.5h3M833 862.5h3M859.5 862v2M889 862.5h6M902.5 862v2M1152 862.5h1M1196 862.5h5M1207 862.5h3M1216 862.5h1M1226 862.5h1M1231 862.5h2M1262.5 862v3M95.5 863v2M124 863.5h1M532 863.5h6M542 863.5h1M556 863.5h1M570 863.5h1M617 863.5h8M647.5 863v2M772 863.5h1M776 863.5h4M805 863.5h10M836 863.5h2M895 863.5h4M1148.5 863v2M1151.5 863v2M1201 863.5h6M1217 863.5h2M1224 863.5h2M1233 863.5h1M123.5 864v2M386 864.5h1M509 864.5h1M530 864.5h2M543 864.5h1M555 864.5h1M571 864.5h2M625 864.5h8M773 864.5h3M838.5 864v2M858.5 864v2M899 864.5h3M1219 864.5h2M1222 864.5h2M1234 864.5h1M96 865.5h1M387 865.5h1M508.5 865v2M510 865.5h1M527 865.5h3M544 865.5h1M554 865.5h1M573 865.5h4M593.5 865v2M633 865.5h6M646.5 865v2M1149 865.5h2M1221 865.5h1M1235 865.5h2M1261.5 865v2M97 866.5h1M122 866.5h1M388 866.5h1M511 866.5h1M525 866.5h2M545 866.5h2M552 866.5h2M577 866.5h5M639 866.5h2M839 866.5h1M857.5 866v2M1149 866.5h1M1237 866.5h12M1258 866.5h3M98 867.5h1M109 867.5h1M121 867.5h1M389 867.5h10M507.5 867v2M512 867.5h1M524 867.5h1M547 867.5h1M551 867.5h1M582 867.5h1M592.5 867v3M641 867.5h3M645.5 867v2M840 867.5h1M1249 867.5h9M99.5 868v2M107 868.5h2M110 868.5h2M120 868.5h1M399 868.5h4M513 868.5h1M522 868.5h2M548 868.5h1M550 868.5h1M583 868.5h1M644 868.5h1M841.5 868v2M856.5 868v2M105 869.5h2M112 869.5h1M119.5 869v2M403 869.5h3M477 869.5h2M506.5 869v2M514 869.5h1M521 869.5h1M549 869.5h1M584 869.5h1M100 870.5h1M103 870.5h2M113 870.5h2M406 870.5h2M477 870.5h1M479 870.5h2M515 870.5h1M520 870.5h1M585.5 870v2M591.5 870v2M842 870.5h1M855.5 870v2M101 871.5h2M115 871.5h2M118 871.5h1M408 871.5h2M476.5 871v2M481 871.5h3M505.5 871v2M516 871.5h1M518 871.5h2M843 871.5h1M117 872.5h1M410 872.5h2M484 872.5h3M517 872.5h1M586 872.5h1M590.5 872v2M844.5 872v2M854.5 872v2M412 873.5h2M475.5 873v3M487 873.5h2M504.5 873v2M587 873.5h1M414 874.5h2M489 874.5h3M588 874.5h2M845 874.5h9M416 875.5h1M492 875.5h2M503.5 875v2M589 875.5h1M417 876.5h2M474.5 876v3M494 876.5h2M419 877.5h2M496 877.5h2M502.5 877v2M421 878.5h1M498 878.5h2M422 879.5h1M473.5 879v2M500 879.5h2M423 880.5h2M425 881.5h1M472.5 881v3M426 882.5h1M427 883.5h2M429 884.5h4M471.5 884v3M433 885.5h8M441 886.5h5M446 887.5h2M470.5 887v2M448 888.5h2M450 889.5h2M469.5 889v2M452 890.5h17" fill="none" stroke="#1e90ff" stroke-width="1" shape-rendering="crispEdges"/>
<g shape-rendering="crispEdges">
<rect x="0" y="27" width="1626" height="1" fill="#000"/>
<rect x="1625" y="27" width="1" height="901" fill="#000"/>
<rect x="0" y="580" width="1626" height="1" fill="#000"/>
<rect x="0" y="582" width="1626" height="1" fill="#000"/>
<rect x="0" y="765" width="1626" height="1" fill="#000"/>
<rect x="0" y="767" width="1626" height="1" fill="#000"/>
<rect x="0" y="927" width="1626" height="1" fill="#000"/>
</g>
<g shape-rendering="crispEdges">
<rect x="1626" y="49" width="2" height="1" fill="#000"/>
<rect x="1626" y="82" width="2" height="1" fill="#000"/>
<rect x="1626" y="115" width="2" height="1" fill="#000"/>
<rect x="1626" y="148" width="2" height="1" fill="#000"/>
<rect x="1626" y="181" width="2" height="1" fill="#000"/>
<rect x="1626" y="214" width="2" height="1" fill="#000"/>
<rect x="1626" y="247" width="2" height="1" fill="#000"/>
<rect x="1626" y="280" width="2" height="1" fill="#000"/>
<rect x="1626" y="313" width="2" height="1" fill="#000"/>
<rect x="1626" y="346" width="2" height="1" fill="#000"/>
<rect x="1626" y="379" width="2" height="1" fill="#000"/>
<rect x="1626" y="412" width="2" height="1" fill="#000"/>
<rect x="1626" y="445" width="2" height="1" fill="#000"/>
<rect x="1626" y="478" width="2" height="1" fill="#000"/>
<rect x="1626" y="511" width="2" height="1" fill="#000"/>
<rect x="1626" y="544" width="2" height="1" fill="#000"/>
<rect x="1626" y="577" width="2" height="1" fill="#000"/>
</g>
<text x="1630.8" y="53" font-size="9.8" fill="#000" textLength="33.3" lengthAdjust="spacingAndGlyphs" text-rendering="geometricPrecision" stroke="#000" stroke-width="0.3" font-family="'Liberation Sans', sans-serif">0.70855</text>
<text x="1630.8" y="86" font-size="9.8" fill="#000" textLength="33.3" lengthAdjust="spacingAndGlyphs" text-rendering="geometricPrecision" stroke="#000" stroke-width="0.3" font-family="'Liberation Sans', sans-serif">0.70590</text>
<text x="1630.8" y="119" font-size="9.8" fill="#000" textLength="33.3" lengthAdjust="spacingAndGlyphs" text-rendering="geometricPrecision" stroke="#000" stroke-width="0.3" font-family="'Liberation Sans', sans-serif">0.70325</text>
<text x="1630.8" y="152" font-size="9.8" fill="#000" textLength="33.3" lengthAdjust="spacingAndGlyphs" text-rendering="geometricPrecision" stroke="#000" stroke-width="0.3" font-family="'Liberation Sans', sans-serif">0.70060</text>
<text x="1630.8" y="185" font-size="9.8" fill="#000" textLength="33.3" lengthAdjust="spacingAndGlyphs" text-rendering="geometricPrecision" stroke="#000" stroke-width="0.3" font-family="'Liberation Sans', sans-serif">0.69790</text>
<text x="1630.8" y="218" font-size="9.8" fill="#000" textLength="33.3" lengthAdjust="spacingAndGlyphs" text-rendering="geometricPrecision" stroke="#000" stroke-width="0.3" font-family="'Liberation Sans', sans-serif">0.69525</text>
<text x="1630.8" y="251" font-size="9.8" fill="#000" textLength="33.3" lengthAdjust="spacingAndGlyphs" text-rendering="geometricPrecision" stroke="#000" stroke-width="0.3" font-family="'Liberation Sans', sans-serif">0.69260</text>
<text x="1630.8" y="284" font-size="9.8" fill="#000" textLength="33.3" lengthAdjust="spacingAndGlyphs" text-rendering="geometricPrecision" stroke="#000" stroke-width="0.3" font-family="'Liberation Sans', sans-serif">0.68995</text>
<text x="1630.8" y="317" font-size="9.8" fill="#000" textLength="33.3" lengthAdjust="spacingAndGlyphs" text-rendering="geometricPrecision" stroke="#000" stroke-width="0.3" font-family="'Liberation Sans', sans-serif">0.68730</text>
<text x="1630.8" y="350" font-size="9.8" fill="#000" textLength="33.3" lengthAdjust="spacingAndGlyphs" text-rendering="geometricPrecision" stroke="#000" stroke-width="0.3" font-family="'Liberation Sans', sans-serif">0.68465</text>
<text x="1630.8" y="383" font-size="9.8" fill="#000" textLength="33.3" lengthAdjust="spacingAndGlyphs" text-rendering="geometricPrecision" stroke="#000" stroke-width="0.3" font-family="'Liberation Sans', sans-serif">0.68200</text>
<text x="1630.8" y="416" font-size="9.8" fill="#000" textLength="33.3" lengthAdjust="spacingAndGlyphs" text-rendering="geometricPrecision" stroke="#000" stroke-width="0.3" font-family="'Liberation Sans', sans-serif">0.67935</text>
<text x="1630.8" y="449" font-size="9.8" fill="#000" textLength="33.3" lengthAdjust="spacingAndGlyphs" text-rendering="geometricPrecision" stroke="#000" stroke-width="0.3" font-family="'Liberation Sans', sans-serif">0.67670</text>
<text x="1630.8" y="482" font-size="9.8" fill="#000" textLength="33.3" lengthAdjust="spacingAndGlyphs" text-rendering="geometricPrecision" stroke="#000" stroke-width="0.3" font-family="'Liberation Sans', sans-serif">0.67405</text>
<text x="1630.8" y="515" font-size="9.8" fill="#000" textLength="33.3" lengthAdjust="spacingAndGlyphs" text-rendering="geometricPrecision" stroke="#000" stroke-width="0.3" font-family="'Liberation Sans', sans-serif">0.67140</text>
<text x="1630.8" y="548" font-size="9.8" fill="#000" textLength="33.3" lengthAdjust="spacingAndGlyphs" text-rendering="geometricPrecision" stroke="#000" stroke-width="0.3" font-family="'Liberation Sans', sans-serif">0.66875</text>
<text x="1630.8" y="581" font-size="9.8" fill="#000" textLength="33.3" lengthAdjust="spacingAndGlyphs" text-rendering="geometricPrecision" stroke="#000" stroke-width="0.3" font-family="'Liberation Sans', sans-serif">0.66610</text>
<rect x="1627" y="302" width="41" height="11" fill="#ff0000" shape-rendering="crispEdges"/>
<text x="1630.8" y="311" font-size="9.8" fill="#fff" textLength="33.3" lengthAdjust="spacingAndGlyphs" text-rendering="geometricPrecision" stroke="#fff" stroke-width="0.3" font-family="'Liberation Sans', sans-serif">0.68773</text>
<rect x="1627" y="323" width="41" height="11" fill="#ff0000" shape-rendering="crispEdges"/>
<text x="1630.8" y="332" font-size="9.8" fill="#fff" textLength="33.3" lengthAdjust="spacingAndGlyphs" text-rendering="geometricPrecision" stroke="#fff" stroke-width="0.3" font-family="'Liberation Sans', sans-serif">0.68604</text>
<rect x="1627" y="345" width="41" height="11" fill="#000000" shape-rendering="crispEdges"/>
<text x="1630.8" y="354" font-size="9.8" fill="#fff" textLength="33.3" lengthAdjust="spacingAndGlyphs" text-rendering="geometricPrecision" stroke="#fff" stroke-width="0.3" font-family="'Liberation Sans', sans-serif">0.68435</text>
<rect x="1627" y="364" width="41" height="11" fill="#00ff00" shape-rendering="crispEdges"/>
<text x="1630.8" y="373" font-size="9.8" fill="#fff" textLength="33.3" lengthAdjust="spacingAndGlyphs" text-rendering="geometricPrecision" stroke="#fff" stroke-width="0.3" font-family="'Liberation Sans', sans-serif">0.68275</text>
<rect x="1627" y="390" width="41" height="11" fill="#0000ff" shape-rendering="crispEdges"/>
<text x="1630.8" y="399" font-size="9.8" fill="#fff" textLength="33.3" lengthAdjust="spacingAndGlyphs" text-rendering="geometricPrecision" stroke="#fff" stroke-width="0.3" font-family="'Liberation Sans', sans-serif">0.68067</text>
<rect x="1627" y="411" width="41" height="11" fill="#0000ff" shape-rendering="crispEdges"/>
<text x="1630.8" y="420" font-size="9.8" fill="#fff" textLength="33.3" lengthAdjust="spacingAndGlyphs" text-rendering="geometricPrecision" stroke="#fff" stroke-width="0.3" font-family="'Liberation Sans', sans-serif">0.67898</text>
<g shape-rendering="crispEdges">
<rect x="1619" y="305" width="6" height="6" fill="#ff0000"/>
<rect x="1621" y="307" width="2" height="2" fill="#fff"/>
<rect x="0" y="305" width="2" height="6" fill="#ff0000"/>
<rect x="1619" y="326" width="6" height="6" fill="#ff0000"/>
<rect x="1621" y="328" width="2" height="2" fill="#fff"/>
<rect x="0" y="326" width="2" height="6" fill="#ff0000"/>
</g>
<text x="1628.8" y="593" font-size="9.8" fill="#000" textLength="33.3" lengthAdjust="spacingAndGlyphs" text-rendering="geometricPrecision" stroke="#000" stroke-width="0.3" font-family="'Liberation Sans', sans-serif">0.00349</text>
<text x="1628.8" y="652" font-size="9.8" fill="#000" textLength="18.5" lengthAdjust="spacingAndGlyphs" text-rendering="geometricPrecision" stroke="#000" stroke-width="0.3" font-family="'Liberation Sans', sans-serif">0.00</text>
<text x="1628.8" y="762" font-size="9.8" fill="#000" textLength="36.4" lengthAdjust="spacingAndGlyphs" text-rendering="geometricPrecision" stroke="#000" stroke-width="0.3" font-family="'Liberation Sans', sans-serif">-0.00637</text>
<text x="1628.7" y="778" font-size="9.8" fill="#000" textLength="15.2" lengthAdjust="spacingAndGlyphs" text-rendering="geometricPrecision" stroke="#000" stroke-width="0.3" font-family="'Liberation Sans', sans-serif">100</text>
<text x="1628.7" y="804" font-size="9.8" fill="#000" textLength="10.2" lengthAdjust="spacingAndGlyphs" text-rendering="geometricPrecision" stroke="#000" stroke-width="0.3" font-family="'Liberation Sans', sans-serif">80</text>
<text x="1628.7" y="851" font-size="9.8" fill="#000" textLength="10.2" lengthAdjust="spacingAndGlyphs" text-rendering="geometricPrecision" stroke="#000" stroke-width="0.3" font-family="'Liberation Sans', sans-serif">50</text>
<text x="1628.7" y="907" font-size="9.8" fill="#000" textLength="10.2" lengthAdjust="spacingAndGlyphs" text-rendering="geometricPrecision" stroke="#000" stroke-width="0.3" font-family="'Liberation Sans', sans-serif">15</text>
<text x="1628.7" y="924" font-size="9.8" fill="#000" textLength="5.2" lengthAdjust="spacingAndGlyphs" text-rendering="geometricPrecision" stroke="#000" stroke-width="0.3" font-family="'Liberation Sans', sans-serif">0</text>
<g shape-rendering="crispEdges">
<rect x="1626" y="584" width="1" height="1" fill="#000"/>
<rect x="1626" y="648" width="1" height="1" fill="#000"/>
<rect x="1626" y="764" width="1" height="1" fill="#000"/>
<rect x="1626" y="769" width="1" height="1" fill="#000"/>
<rect x="1626" y="926" width="1" height="1" fill="#000"/>
</g>
<g shape-rendering="crispEdges">
<rect x="-3" y="928" width="1" height="3" fill="#000"/>
<rect x="61" y="928" width="1" height="3" fill="#000"/>
<rect x="125" y="928" width="1" height="3" fill="#000"/>
<rect x="189" y="928" width="1" height="3" fill="#000"/>
<rect x="253" y="928" width="1" height="3" fill="#000"/>
<rect x="317" y="928" width="1" height="3" fill="#000"/>
<rect x="381" y="928" width="1" height="3" fill="#000"/>
<rect x="445" y="928" width="1" height="3" fill="#000"/>
<rect x="509" y="928" width="1" height="3" fill="#000"/>
<rect x="573" y="928" width="1" height="3" fill="#000"/>
<rect x="637" y="928" width="1" height="3" fill="#000"/>
<rect x="701" y="928" width="1" height="3" fill="#000"/>
<rect x="765" y="928" width="1" height="3" fill="#000"/>
<rect x="829" y="928" width="1" height="3" fill="#000"/>
<rect x="893" y="928" width="1" height="3" fill="#000"/>
<rect x="957" y="928" width="1" height="3" fill="#000"/>
<rect x="1021" y="928" width="1" height="3" fill="#000"/>
<rect x="1085" y="928" width="1" height="3" fill="#000"/>
<rect x="1149" y="928" width="1" height="3" fill="#000"/>
<rect x="1213" y="928" width="1" height="3" fill="#000"/>
<rect x="1277" y="928" width="1" height="3" fill="#000"/>
</g>
<text x="-4.2" y="940" font-size="9.8" fill="#000" textLength="56.1" lengthAdjust="spacingAndGlyphs" text-rendering="geometricPrecision" stroke="#000" stroke-width="0.3" font-family="'Liberation Sans', sans-serif">30 May 2019</text>
<text x="59.8" y="940" font-size="9.8" fill="#000" textLength="45.4" lengthAdjust="spacingAndGlyphs" text-rendering="geometricPrecision" stroke="#000" stroke-width="0.3" font-family="'Liberation Sans', sans-serif">9 Jun 2019</text>
<text x="123.8" y="940" font-size="9.8" fill="#000" textLength="50.300000000000004" lengthAdjust="spacingAndGlyphs" text-rendering="geometricPrecision" stroke="#000" stroke-width="0.3" font-family="'Liberation Sans', sans-serif">18 Jun 2019</text>
<text x="187.8" y="940" font-size="9.8" fill="#000" textLength="50.300000000000004" lengthAdjust="spacingAndGlyphs" text-rendering="geometricPrecision" stroke="#000" stroke-width="0.3" font-family="'Liberation Sans', sans-serif">27 Jun 2019</text>
<text x="251.8" y="940" font-size="9.8" fill="#000" textLength="42.1" lengthAdjust="spacingAndGlyphs" text-rendering="geometricPrecision" stroke="#000" stroke-width="0.3" font-family="'Liberation Sans', sans-serif">7 Jul 2019</text>
<text x="315.8" y="940" font-size="9.8" fill="#000" textLength="47.6" lengthAdjust="spacingAndGlyphs" text-rendering="geometricPrecision" stroke="#000" stroke-width="0.3" font-family="'Liberation Sans', sans-serif">16 Jul 2019</text>
<text x="379.8" y="940" font-size="9.8" fill="#000" textLength="47.6" lengthAdjust="spacingAndGlyphs" text-rendering="geometricPrecision" stroke="#000" stroke-width="0.3" font-family="'Liberation Sans', sans-serif">25 Jul 2019</text>
<text x="443.8" y="940" font-size="9.8" fill="#000" textLength="48.1" lengthAdjust="spacingAndGlyphs" text-rendering="geometricPrecision" stroke="#000" stroke-width="0.3" font-family="'Liberation Sans', sans-serif">4 Aug 2019</text>
<text x="507.8" y="940" font-size="9.8" fill="#000" textLength="53.4" lengthAdjust="spacingAndGlyphs" text-rendering="geometricPrecision" stroke="#000" stroke-width="0.3" font-family="'Liberation Sans', sans-serif">13 Aug 2019</text>
<text x="571.8" y="940" font-size="9.8" fill="#000" textLength="53.4" lengthAdjust="spacingAndGlyphs" text-rendering="geometricPrecision" stroke="#000" stroke-width="0.3" font-family="'Liberation Sans', sans-serif">22 Aug 2019</text>
<text x="635.8" y="940" font-size="9.8" fill="#000" textLength="47.4" lengthAdjust="spacingAndGlyphs" text-rendering="geometricPrecision" stroke="#000" stroke-width="0.3" font-family="'Liberation Sans', sans-serif">1 Sep 2019</text>
<text x="699.8" y="940" font-size="9.8" fill="#000" textLength="52.4" lengthAdjust="spacingAndGlyphs" text-rendering="geometricPrecision" stroke="#000" stroke-width="0.3" font-family="'Liberation Sans', sans-serif">10 Sep 2019</text>
<text x="763.8" y="940" font-size="9.8" fill="#000" textLength="52.4" lengthAdjust="spacingAndGlyphs" text-rendering="geometricPrecision" stroke="#000" stroke-width="0.3" font-family="'Liberation Sans', sans-serif">19 Sep 2019</text>
<text x="827.8" y="940" font-size="9.8" fill="#000" textLength="52.4" lengthAdjust="spacingAndGlyphs" text-rendering="geometricPrecision" stroke="#000" stroke-width="0.3" font-family="'Liberation Sans', sans-serif">29 Sep 2019</text>
<text x="891.8" y="940" font-size="9.8" fill="#000" textLength="46.4" lengthAdjust="spacingAndGlyphs" text-rendering="geometricPrecision" stroke="#000" stroke-width="0.3" font-family="'Liberation Sans', sans-serif">8 Oct 2019</text>
<text x="955.8" y="940" font-size="9.8" fill="#000" textLength="51.4" lengthAdjust="spacingAndGlyphs" text-rendering="geometricPrecision" stroke="#000" stroke-width="0.3" font-family="'Liberation Sans', sans-serif">17 Oct 2019</text>
<text x="1019.8" y="940" font-size="9.8" fill="#000" textLength="51.5" lengthAdjust="spacingAndGlyphs" text-rendering="geometricPrecision" stroke="#000" stroke-width="0.3" font-family="'Liberation Sans', sans-serif">27 Oct 2019</text>
<text x="1083.8" y="940" font-size="9.8" fill="#000" textLength="49.6" lengthAdjust="spacingAndGlyphs" text-rendering="geometricPrecision" stroke="#000" stroke-width="0.3" font-family="'Liberation Sans', sans-serif">5 Nov 2019</text>
<text x="1147.8" y="940" font-size="9.8" fill="#000" textLength="54.6" lengthAdjust="spacingAndGlyphs" text-rendering="geometricPrecision" stroke="#000" stroke-width="0.3" font-family="'Liberation Sans', sans-serif">14 Nov 2019</text>
<text x="1211.8" y="940" font-size="9.8" fill="#000" textLength="54.6" lengthAdjust="spacingAndGlyphs" text-rendering="geometricPrecision" stroke="#000" stroke-width="0.3" font-family="'Liberation Sans', sans-serif">24 Nov 2019</text>
<text x="1275.8" y="940" font-size="9.8" fill="#000" textLength="47.6" lengthAdjust="spacingAndGlyphs" text-rendering="geometricPrecision" stroke="#000" stroke-width="0.3" font-family="'Liberation Sans', sans-serif">3 Dec 2019</text>
<g shape-rendering="crispEdges">
<rect x="1293" y="28" width="9" height="1" fill="#c0c0c0"/>
<rect x="1294" y="29" width="7" height="1" fill="#c0c0c0"/>
<rect x="1295" y="30" width="5" height="1" fill="#c0c0c0"/>
<rect x="1296" y="31" width="3" height="1" fill="#c0c0c0"/>
<rect x="1297" y="32" width="1" height="1" fill="#c0c0c0"/>
<rect x="1253" y="367" width="46" height="7" fill="#00ff00"/>
<rect x="1342" y="370" width="8" height="1" fill="#ff0000"/>
<rect x="1349" y="368" width="3" height="4" fill="#ff0000"/>
<rect x="1350" y="369" width="1" height="2" fill="#fff"/>
<rect x="1352.5" y="354.5" width="99" height="32" fill="#fff" stroke="#ff0000" stroke-width="1"/>
</g>
<text x="1353.3" y="381.1" font-size="29.3" fill="#ff0000" textLength="97.5" lengthAdjust="spacingAndGlyphs" stroke="#ff0000" stroke-width="0.5" font-family="'Liberation Sans', sans-serif">0.68275</text>
<text x="1352.6" y="449.6" font-size="30.5" fill="#00ff00" font-weight="500" font-family="'Liberation Serif', 'Noto Serif CJK SC', serif" textLength="162.5" lengthAdjust="spacingAndGlyphs" style="text-shadow:1px 1px 0 rgba(0,30,0,0.9)">多空转折点</text>
<defs>
<linearGradient id="gTab" x1="0" y1="0" x2="0" y2="1"><stop offset="0" stop-color="#5252fc"/><stop offset="1" stop-color="#3232dc"/></linearGradient>
<linearGradient id="gBox" x1="0" y1="0" x2="0" y2="1"><stop offset="0" stop-color="#3434e0"/><stop offset="1" stop-color="#0000a8"/></linearGradient>
</defs>
<g shape-rendering="crispEdges">
<rect x="0" y="46" width="220" height="66" fill="#fff"/>
<rect x="0" y="47" width="52" height="24" fill="#0000c8"/>
<rect x="1" y="48" width="50" height="23" fill="url(#gTab)"/>
<rect x="167" y="47" width="52" height="24" fill="#0000c8"/>
<rect x="168" y="48" width="50" height="23" fill="url(#gTab)"/>
<rect x="0" y="71" width="109" height="40" fill="#0000b4"/>
<rect x="1" y="71" width="107" height="39" fill="url(#gBox)"/>
<rect x="111" y="71" width="108" height="40" fill="#0000b4"/>
<rect x="112" y="71" width="106" height="39" fill="url(#gBox)"/>
<rect x="4" y="70" width="44" height="1" fill="#1414b4"/>
<rect x="4" y="71" width="44" height="1" fill="#7070f0"/>
<rect x="171" y="70" width="44" height="1" fill="#1414b4"/>
<rect x="171" y="71" width="44" height="1" fill="#7070f0"/>
<rect x="54" y="47" width="111" height="22" fill="#a0a0a0"/>
<rect x="55" y="48" width="109" height="20" fill="#fff"/>
<rect x="55" y="48" width="20" height="20" fill="#e8e8e8"/>
<rect x="75" y="48" width="1" height="20" fill="#a0a0a0"/>
<rect x="144" y="48" width="20" height="20" fill="#e8e8e8"/>
<rect x="143" y="48" width="1" height="20" fill="#a0a0a0"/>
</g>
<path d="M61.5 56 L67.5 56 L64.5 59 Z" fill="#000"/>
<path d="M150.5 59.5 L156.5 59.5 L153.5 56.5 Z" fill="#000"/>
<text x="25.5" y="63" font-size="13" fill="#fff" text-anchor="middle" textLength="26" lengthAdjust="spacingAndGlyphs" font-family="'Liberation Sans', sans-serif">SELL</text>
<text x="192.5" y="63" font-size="13" fill="#fff" text-anchor="middle" textLength="24" lengthAdjust="spacingAndGlyphs" font-family="'Liberation Sans', sans-serif">BUY</text>
<text x="139.5" y="63" font-size="13" fill="#202020" text-anchor="end" textLength="23.5" lengthAdjust="spacingAndGlyphs" font-family="'Liberation Sans', sans-serif">1.00</text>
<text x="20" y="101.5" font-size="12.5" fill="#fff" font-weight="bold" textLength="24.5" lengthAdjust="spacingAndGlyphs" font-family="'Liberation Sans', sans-serif">0.68</text>
<text x="46.8" y="102.3" font-size="35" fill="#fff" textLength="35.5" lengthAdjust="spacingAndGlyphs" font-family="'Liberation Sans', sans-serif">43</text>
<text x="87.5" y="86" font-size="12.5" fill="#fff" font-weight="bold" font-family="'Liberation Sans', sans-serif">5</text>
<text x="130" y="101.5" font-size="12.5" fill="#fff" font-weight="bold" textLength="24.5" lengthAdjust="spacingAndGlyphs" font-family="'Liberation Sans', sans-serif">0.68</text>
<text x="159.2" y="102.3" font-size="35" fill="#fff" textLength="35.5" lengthAdjust="spacingAndGlyphs" font-family="'Liberation Sans', sans-serif">56</text>
<text x="198" y="86" font-size="12.5" fill="#fff" font-weight="bold" font-family="'Liberation Sans', sans-serif">0</text>
<g shape-rendering="crispEdges">
<rect x="3" y="34" width="1" height="1" fill="#000"/>
<rect x="2" y="35" width="3" height="1" fill="#000"/>
<rect x="1" y="36" width="5" height="1" fill="#000"/>
<rect x="0" y="37" width="7" height="1" fill="#000"/>
</g>
<text x="12.8" y="39" font-size="9.8" fill="#000" textLength="68" lengthAdjust="spacingAndGlyphs" text-rendering="geometricPrecision" stroke="#000" stroke-width="0.3" font-family="'Liberation Sans', sans-serif">AUDUSD-,Daily</text>
<text x="86.8" y="39" font-size="9.8" fill="#000" textLength="141.4" lengthAdjust="spacingAndGlyphs" text-rendering="geometricPrecision" stroke="#000" stroke-width="0.3" font-family="'Liberation Sans', sans-serif">0.68490 0.68542 0.68122 0.68435</text>
<text x="1.5" y="595" font-size="9.8" fill="#000" textLength="153.5" lengthAdjust="spacingAndGlyphs" text-rendering="geometricPrecision" stroke="#000" stroke-width="0.3" font-family="'Liberation Sans', sans-serif">MACD(12,26,9) -0.000500 -0.001450</text>
<text x="1.5" y="780" font-size="9.8" fill="#000" textLength="67.5" lengthAdjust="spacingAndGlyphs" text-rendering="geometricPrecision" stroke="#000" stroke-width="0.3" font-family="'Liberation Sans', sans-serif">RSI(14) 57.9443</text>
<defs>
<linearGradient id="gGreen" x1="0" y1="0" x2="0" y2="1"><stop offset="0" stop-color="#7dff7d"/><stop offset="1" stop-color="#00b400"/></linearGradient>
<linearGradient id="gGold" x1="0" y1="0" x2="1" y2="1"><stop offset="0" stop-color="#ffe060"/><stop offset="1" stop-color="#b87808"/></linearGradient>
<linearGradient id="gBlue" x1="0" y1="0" x2="0" y2="1"><stop offset="0" stop-color="#58b8ff"/><stop offset="1" stop-color="#0860c8"/></linearGradient>
<linearGradient id="gCloud" x1="0" y1="0" x2="0" y2="1"><stop offset="0" stop-color="#ffffff"/><stop offset="1" stop-color="#b8c8e0"/></linearGradient>
<radialGradient id="gLens" cx="0.4" cy="0.35" r="0.7"><stop offset="0" stop-color="#ffffff"/><stop offset="1" stop-color="#b8e0f8"/></radialGradient>
<pattern id="chk" width="2" height="2" patternUnits="userSpaceOnUse"><rect width="2" height="2" fill="#fff"/><rect width="1" height="1" fill="#e4e4e4"/><rect x="1" y="1" width="1" height="1" fill="#e4e4e4"/></pattern>
</defs>
<g shape-rendering="crispEdges">
<rect x="261" y="1" width="24" height="21" fill="url(#chk)"/>
<rect x="413" y="1" width="24" height="21" fill="url(#chk)"/>
<rect x="441" y="1" width="24" height="21" fill="url(#chk)"/>
<rect x="601" y="1" width="24" height="21" fill="url(#chk)"/>
<rect x="1075" y="1" width="24" height="21" fill="url(#chk)"/>
<rect x="260" y="1" width="1" height="20" fill="#a0a0a0"/>
<rect x="317" y="1" width="1" height="20" fill="#a0a0a0"/>
<rect x="407" y="1" width="1" height="20" fill="#a0a0a0"/>
<rect x="412" y="1" width="1" height="20" fill="#a0a0a0"/>
<rect x="440" y="1" width="1" height="20" fill="#a0a0a0"/>
<rect x="469" y="1" width="1" height="20" fill="#a0a0a0"/>
<rect x="600" y="1" width="1" height="20" fill="#a0a0a0"/>
<rect x="657" y="1" width="1" height="20" fill="#a0a0a0"/>
<rect x="1074" y="1" width="1" height="20" fill="#a0a0a0"/>
<rect x="1157" y="1" width="1" height="20" fill="#a0a0a0"/>
<rect x="222" y="0" width="1" height="22" fill="#a0a0a0"/>
<rect x="590" y="0" width="1" height="22" fill="#a0a0a0"/>
<rect x="896" y="0" width="1" height="22" fill="#a0a0a0"/>
<rect x="223" y="0" width="1" height="22" fill="#fff"/>
<rect x="591" y="0" width="1" height="22" fill="#fff"/>
<rect x="897" y="0" width="1" height="22" fill="#fff"/>
<rect x="226" y="1" width="3" height="1" fill="#a8a8a8"/>
<rect x="226" y="3" width="3" height="1" fill="#a8a8a8"/>
<rect x="226" y="5" width="3" height="1" fill="#a8a8a8"/>
<rect x="226" y="7" width="3" height="1" fill="#a8a8a8"/>
<rect x="226" y="9" width="3" height="1" fill="#a8a8a8"/>
<rect x="226" y="11" width="3" height="1" fill="#a8a8a8"/>
<rect x="226" y="13" width="3" height="1" fill="#a8a8a8"/>
<rect x="226" y="15" width="3" height="1" fill="#a8a8a8"/>
<rect x="226" y="17" width="3" height="1" fill="#a8a8a8"/>
<rect x="226" y="19" width="3" height="1" fill="#a8a8a8"/>
<rect x="594" y="1" width="3" height="1" fill="#a8a8a8"/>
<rect x="594" y="3" width="3" height="1" fill="#a8a8a8"/>
<rect x="594" y="5" width="3" height="1" fill="#a8a8a8"/>
<rect x="594" y="7" width="3" height="1" fill="#a8a8a8"/>
<rect x="594" y="9" width="3" height="1" fill="#a8a8a8"/>
<rect x="594" y="11" width="3" height="1" fill="#a8a8a8"/>
<rect x="594" y="13" width="3" height="1" fill="#a8a8a8"/>
<rect x="594" y="15" width="3" height="1" fill="#a8a8a8"/>
<rect x="594" y="17" width="3" height="1" fill="#a8a8a8"/>
<rect x="594" y="19" width="3" height="1" fill="#a8a8a8"/>
<rect x="900" y="1" width="3" height="1" fill="#a8a8a8"/>
<rect x="900" y="3" width="3" height="1" fill="#a8a8a8"/>
<rect x="900" y="5" width="3" height="1" fill="#a8a8a8"/>
<rect x="900" y="7" width="3" height="1" fill="#a8a8a8"/>
<rect x="900" y="9" width="3" height="1" fill="#a8a8a8"/>
<rect x="900" y="11" width="3" height="1" fill="#a8a8a8"/>
<rect x="900" y="13" width="3" height="1" fill="#a8a8a8"/>
<rect x="900" y="15" width="3" height="1" fill="#a8a8a8"/>
<rect x="900" y="17" width="3" height="1" fill="#a8a8a8"/>
<rect x="900" y="19" width="3" height="1" fill="#a8a8a8"/>
</g>
<path d="M0.5 3.5 H5.5 L8.5 6.5 V13.5 H0.5 Z" fill="#fff" stroke="#909090" stroke-width="1"/>
<path d="M1 7.5 H5 M1 9.5 H4" stroke="#a0a0a0" stroke-width="1"/>
<g shape-rendering="crispEdges"><rect x="4" y="10" width="4" height="11" fill="#14a814"/><rect x="0" y="13" width="12" height="4" fill="#14a814"/><rect x="5" y="11" width="2" height="9" fill="#3ce03c"/><rect x="1" y="14" width="10" height="2" fill="#3ce03c"/></g>
<text x="15" y="14" font-size="12" fill="#000" font-family="'Liberation Sans', 'Noto Sans CJK SC', sans-serif" textLength="36" lengthAdjust="spacingAndGlyphs">新订单</text>
<path d="M68 4.5 L79 11 L72.5 18.5 L63.5 12.5 Z" fill="url(#gGold)" stroke="#a06808" stroke-width="1"/>
<path d="M64 13 L72.5 18.5 L79 11.5" fill="none" stroke="#b88020" stroke-width="1.4"/>
<path d="M66 11.5 L69 6.5 L76 11" fill="none" stroke="#ffe878" stroke-width="1.6" opacity="0.8"/>
<path d="M94 4 L101 3 L104 5 V14 H94 Z" fill="url(#gBlue)"/>
<path d="M96 6 V14 M97.5 8 H102.5 M97.5 10.5 H102.5" stroke="#e0f0ff" stroke-width="1" fill="none"/>
<path d="M93.5 18.5 Q90.5 18 91.5 15 Q93 12.5 96 14 Q98 10.5 101.5 12.5 Q103 11.5 104.5 13.5 Q107.5 14 106.5 17 Q106 18.5 104 18.5 Z" fill="url(#gCloud)" stroke="#6080b8" stroke-width="0.9"/>
<circle cx="127" cy="11" r="7.6" fill="none" stroke="#9ab8e8" stroke-width="1.1"/>
<circle cx="127" cy="11" r="5" fill="none" stroke="#5080d0" stroke-width="1.2"/>
<path d="M127 11 L134.6 11 A7.6 7.6 0 0 1 127 18.6 Z" fill="#50a850" opacity="0.75"/>
<circle cx="127" cy="10.5" r="2" fill="#2860d0"/>
<path d="M127.5 11 V18.5" stroke="#20a020" stroke-width="1.3"/>
<path d="M147 11 H162 L156 18.5 H153 Z" fill="#f8d848" stroke="#c89818" stroke-width="0.8"/>
<ellipse cx="154" cy="8.5" rx="7.8" ry="3" fill="#58a8e0" stroke="#2878b8" stroke-width="0.8"/>
<ellipse cx="154" cy="6.2" rx="4" ry="3" fill="#78c0f0" stroke="#2878b8" stroke-width="0.8"/>
<circle cx="158.5" cy="15" r="4.2" fill="#e02010"/>
<rect x="156.8" y="13.3" width="3.4" height="3.4" fill="#fff"/>
<text x="167.5" y="14.5" font-size="12" fill="#000" font-family="'Liberation Sans', 'Noto Sans CJK SC', sans-serif" textLength="47.5" lengthAdjust="spacingAndGlyphs">自动交易</text>
<path d="M240.5 6 V19 M238 16.5 H250" stroke="#505050" stroke-width="1" fill="none" shape-rendering="crispEdges"/>
<path d="M238.5 7.5 L240.5 5 L242.5 7.5 Z M249 14.5 L251.5 16.5 L249 18.5 Z" fill="#505050"/>
<path d="M244 13.5 H246.5 V7 H249" stroke="#10a010" stroke-width="1.3" fill="none" shape-rendering="crispEdges"/>
<path d="M268.5 6 V19 M266 16.5 H278" stroke="#505050" stroke-width="1" fill="none" shape-rendering="crispEdges"/>
<path d="M266.5 7.5 L268.5 5 L270.5 7.5 Z M277 14.5 L279.5 16.5 L277 18.5 Z" fill="#505050"/>
<path d="M274.5 3 V15" stroke="#10a010" stroke-width="1" shape-rendering="crispEdges"/>
<rect x="272.5" y="5.5" width="4" height="7" fill="url(#gGreen)" stroke="#10a010" stroke-width="1"/>
<path d="M296.5 6 V19 M294 16.5 H306" stroke="#505050" stroke-width="1" fill="none" shape-rendering="crispEdges"/>
<path d="M294.5 7.5 L296.5 5 L298.5 7.5 Z M305 14.5 L307.5 16.5 L305 18.5 Z" fill="#505050"/>
<path d="M295 14 Q299 8.5 301 8 Q303 8.5 307 12.5" stroke="#30a030" stroke-width="1.2" fill="none"/>
<path d="M336 13 L341.5 18" stroke="#c8a020" stroke-width="2.6" stroke-linecap="round"/>
<circle cx="332" cy="9" r="5.4" fill="url(#gLens)" stroke="#3888d0" stroke-width="1.3"/>
<path d="M329 9 H335 M332 6 V12" stroke="#4888b0" stroke-width="1.6"/>
<path d="M364 13 L369.5 18" stroke="#c8a020" stroke-width="2.6" stroke-linecap="round"/>
<circle cx="360" cy="9" r="5.4" fill="url(#gLens)" stroke="#3888d0" stroke-width="1.3"/>
<path d="M357 9 H363" stroke="#4888b0" stroke-width="1.6"/>
<g shape-rendering="crispEdges">
<rect x="382" y="3" width="8" height="8" fill="#38a010"/>
<rect x="384" y="6" width="5" height="4" fill="#fff"/>
<rect x="385" y="7" width="3" height="1" fill="#38a010"/>
<rect x="390" y="3" width="8" height="8" fill="#1858d0"/>
<rect x="392" y="6" width="5" height="4" fill="#fff"/>
<rect x="393" y="7" width="3" height="1" fill="#1858d0"/>
<rect x="382" y="11" width="8" height="8" fill="#1858d0"/>
<rect x="384" y="14" width="5" height="4" fill="#fff"/>
<rect x="385" y="15" width="3" height="1" fill="#1858d0"/>
<rect x="390" y="11" width="8" height="8" fill="#38a010"/>
<rect x="392" y="14" width="5" height="4" fill="#fff"/>
<rect x="393" y="15" width="3" height="1" fill="#38a010"/>
</g>
<path d="M420.5 6 V19 M418 16.5 H430" stroke="#505050" stroke-width="1" fill="none" shape-rendering="crispEdges"/>
<path d="M418.5 7.5 L420.5 5 L422.5 7.5 Z M429 14.5 L431.5 16.5 L429 18.5 Z" fill="#505050"/>
<path d="M425 7 L429.5 10.5 L425 14 Z" fill="#20b020"/>
<path d="M448.5 6 V19 M446 16.5 H458" stroke="#505050" stroke-width="1" fill="none" shape-rendering="crispEdges"/>
<path d="M446.5 7.5 L448.5 5 L450.5 7.5 Z M457 14.5 L459.5 16.5 L457 18.5 Z" fill="#505050"/>
<path d="M454.5 5 V15" stroke="#1870a0" stroke-width="1" shape-rendering="crispEdges"/>
<path d="M456 10.5 L460 8 L459 10.5 L460 13 Z" fill="#e04000"/>
<path d="M479.5 3.5 H487.5 L490.5 6.5 V16.5 H479.5 Z" fill="#fff" stroke="#909090" stroke-width="1"/>
<path d="M482 6 V14 M482 8 H485" stroke="#707060" stroke-width="1" fill="none"/>
<g shape-rendering="crispEdges"><rect x="487" y="9" width="4" height="12" fill="#14a814"/><rect x="483" y="13" width="12" height="4" fill="#14a814"/><rect x="488" y="10" width="2" height="10" fill="#3ce03c"/><rect x="484" y="14" width="10" height="2" fill="#3ce03c"/></g>
<path d="M500.5 10 H506.5 L503.5 13 Z" fill="#000"/>
<path d="M539.5 10 H545.5 L542.5 13 Z" fill="#000"/>
<path d="M578.5 10 H584.5 L581.5 13 Z" fill="#000"/>
<path d="M884.5 10 H890.5 L887.5 13 Z" fill="#000"/>
<circle cx="525" cy="11" r="7" fill="#fff" stroke="url(#gBlue)" stroke-width="2.2"/>
<path d="M524.5 7 V11.5 H528" stroke="#303030" stroke-width="1.2" fill="none"/>
<rect x="556.5" y="4.5" width="15" height="13" fill="#fff" stroke="#2870c0" stroke-width="1"/>
<rect x="557" y="5" width="14" height="2" fill="#60a8f0" shape-rendering="crispEdges"/>
<rect x="557" y="12" width="14" height="1" fill="#2870c0" shape-rendering="crispEdges"/>
<path d="M558 10.5 H560 L561.5 9 H563.5 L565 9.5 H566.5 L568 8.5 H570" stroke="#a02000" stroke-width="1.2" fill="none"/>
<path d="M559 15.5 H560.5 L562 14.5 L563.5 15.5 H565 L567 13.5 L569.5 15.5" stroke="#108810" stroke-width="1.2" fill="none"/>
<path d="M608 4 L608 15 L610.8 12.6 L613 18 L615 17 L612.8 11.8 L616 11.5 Z" fill="#484848"/>
<path d="M640.5 4 V10 M640.5 13 V19 M633 11.5 H639 M642 11.5 H648" stroke="#505050" stroke-width="1" fill="none" shape-rendering="crispEdges"/>
<rect x="674" y="5" width="1" height="13" fill="#484848" shape-rendering="crispEdges"/>
<rect x="697" y="11" width="12" height="1" fill="#484848" shape-rendering="crispEdges"/>
<path d="M725 17.5 L737 6" stroke="#484848" stroke-width="1.1"/>
<path d="M752 16 L763 5.5 M755 18 L766 8" stroke="#585858" stroke-width="0.9"/>
<path d="M753.5 15 L756 10 L757.5 13 L760 7.5 L761 10.5 L763 4" stroke="#404040" stroke-width="1" fill="none"/>
<text x="762" y="19.8" font-size="6.5" font-weight="bold" fill="#404040" font-family="'Liberation Sans', sans-serif">E</text>
<g shape-rendering="crispEdges">
<rect x="780" y="4" width="1" height="1" fill="#404040"/>
<rect x="782" y="4" width="1" height="1" fill="#404040"/>
<rect x="784" y="4" width="1" height="1" fill="#404040"/>
<rect x="786" y="4" width="1" height="1" fill="#404040"/>
<rect x="788" y="4" width="1" height="1" fill="#404040"/>
<rect x="790" y="4" width="1" height="1" fill="#404040"/>
<rect x="792" y="4" width="1" height="1" fill="#404040"/>
<rect x="780" y="7" width="1" height="1" fill="#404040"/>
<rect x="782" y="7" width="1" height="1" fill="#404040"/>
<rect x="784" y="7" width="1" height="1" fill="#404040"/>
<rect x="786" y="7" width="1" height="1" fill="#404040"/>
<rect x="788" y="7" width="1" height="1" fill="#404040"/>
<rect x="790" y="7" width="1" height="1" fill="#404040"/>
<rect x="792" y="7" width="1" height="1" fill="#404040"/>
<rect x="780" y="11" width="1" height="1" fill="#404040"/>
<rect x="782" y="11" width="1" height="1" fill="#404040"/>
<rect x="784" y="11" width="1" height="1" fill="#404040"/>
<rect x="786" y="11" width="1" height="1" fill="#404040"/>
<rect x="788" y="11" width="1" height="1" fill="#404040"/>
<rect x="790" y="11" width="1" height="1" fill="#404040"/>
<rect x="792" y="11" width="1" height="1" fill="#404040"/>
<rect x="780" y="15" width="1" height="1" fill="#404040"/>
<rect x="782" y="15" width="1" height="1" fill="#404040"/>
<rect x="784" y="15" width="1" height="1" fill="#404040"/>
<rect x="786" y="15" width="1" height="1" fill="#404040"/>
<rect x="788" y="15" width="1" height="1" fill="#404040"/>
</g>
<text x="789.5" y="19.8" font-size="6.5" font-weight="bold" fill="#404040" font-family="'Liberation Sans', sans-serif">F</text>
<text x="810.3" y="16" font-size="12.5" fill="#484848" stroke="#484848" stroke-width="0.4" font-family="'Liberation Sans', sans-serif">A</text>
<rect x="837.5" y="5.5" width="11" height="12" fill="none" stroke="#404040" stroke-width="1" stroke-dasharray="1 1" shape-rendering="crispEdges"/>
<text x="839.2" y="15.8" font-size="10.5" fill="#484848" stroke="#484848" stroke-width="0.5" font-family="'Liberation Sans', sans-serif">T</text>
<path d="M864 8.5 L867.5 5 L871 8.5 L867.5 10 Z" fill="#484848"/>
<path d="M871 14.5 L874.5 18 L878 14.5 L874.5 13 Z" fill="#484848"/>
<path d="M866.5 12.5 L868.5 14.5 L872.5 10" stroke="#484848" stroke-width="1.2" fill="none"/>
<text x="911.5" y="15" font-size="9.8" fill="#404040" stroke="#404040" stroke-width="0.25" text-rendering="geometricPrecision" font-family="'Liberation Sans', sans-serif" textLength="13" lengthAdjust="spacingAndGlyphs">M1</text>
<text x="939.5" y="15" font-size="9.8" fill="#404040" stroke="#404040" stroke-width="0.25" text-rendering="geometricPrecision" font-family="'Liberation Sans', sans-serif" textLength="13" lengthAdjust="spacingAndGlyphs">M5</text>
<text x="964.0" y="15" font-size="9.8" fill="#404040" stroke="#404040" stroke-width="0.25" text-rendering="geometricPrecision" font-family="'Liberation Sans', sans-serif" textLength="19.5" lengthAdjust="spacingAndGlyphs">M15</text>
<text x="992.0" y="15" font-size="9.8" fill="#404040" stroke="#404040" stroke-width="0.25" text-rendering="geometricPrecision" font-family="'Liberation Sans', sans-serif" textLength="19.5" lengthAdjust="spacingAndGlyphs">M30</text>
<text x="1023.0" y="15" font-size="9.8" fill="#404040" stroke="#404040" stroke-width="0.25" text-rendering="geometricPrecision" font-family="'Liberation Sans', sans-serif" textLength="14.5" lengthAdjust="spacingAndGlyphs">H1</text>
<text x="1050.5" y="15" font-size="9.8" fill="#404040" stroke="#404040" stroke-width="0.25" text-rendering="geometricPrecision" font-family="'Liberation Sans', sans-serif" textLength="14.5" lengthAdjust="spacingAndGlyphs">H4</text>
<text x="1079.5" y="15" font-size="9.8" fill="#404040" stroke="#404040" stroke-width="0.25" text-rendering="geometricPrecision" font-family="'Liberation Sans', sans-serif" textLength="13" lengthAdjust="spacingAndGlyphs">D1</text>
<text x="1107.0" y="15" font-size="9.8" fill="#404040" stroke="#404040" stroke-width="0.25" text-rendering="geometricPrecision" font-family="'Liberation Sans', sans-serif" textLength="15.5" lengthAdjust="spacingAndGlyphs">W1</text>
<text x="1133.5" y="15" font-size="9.8" fill="#404040" stroke="#404040" stroke-width="0.25" text-rendering="geometricPrecision" font-family="'Liberation Sans', sans-serif" textLength="17" lengthAdjust="spacingAndGlyphs">MN</text>
<path d="M1625 11.3 L1620.3 15.8" stroke="#2860d0" stroke-width="2.4" stroke-linecap="round"/>
<circle cx="1627.4" cy="8.4" r="3.8" fill="#f4f4fa" stroke="#2868e0" stroke-width="1.3"/>
<defs><linearGradient id="gBub" x1="0" y1="0" x2="0" y2="1"><stop offset="0" stop-color="#ffffff"/><stop offset="1" stop-color="#d0d0e0"/></linearGradient></defs>
<path d="M1661.5 12.3 L1663.8 14.8 L1664.2 12" fill="#707070" stroke="#707070" stroke-width="0.6"/>
<ellipse cx="1660.2" cy="8.1" rx="6.4" ry="4.7" fill="url(#gBub)" stroke="#a0a0a0" stroke-width="1"/>
<path d="M1648.8 14.8 L1648.6 17.2 L1651.2 15.2" fill="#707070" stroke="#707070" stroke-width="0.6"/>
<ellipse cx="1651.3" cy="11.7" rx="5" ry="3.8" fill="url(#gBub)" stroke="#909090" stroke-width="1"/>
<rect x="1671" y="23" width="1" height="920" fill="#d4d4d4" shape-rendering="crispEdges"/>
</svg></body></html>
